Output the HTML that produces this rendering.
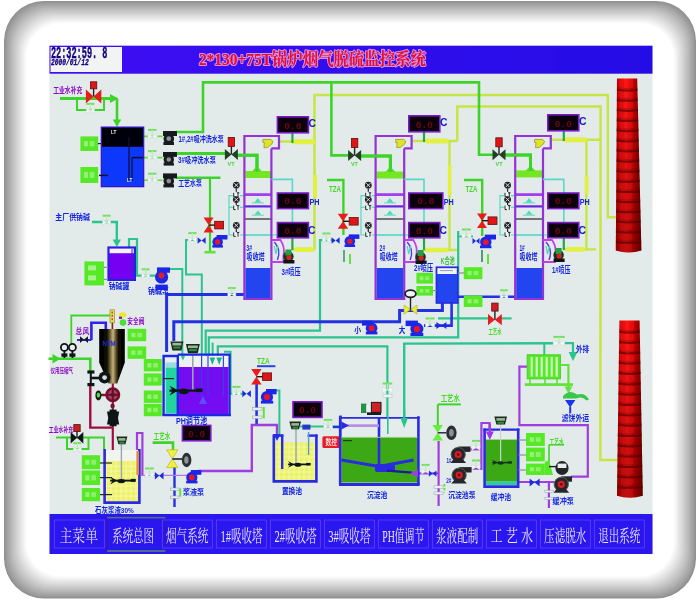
<!DOCTYPE html>
<html><head><meta charset="utf-8"><title>FGD SCADA</title>
<style>
html,body{margin:0;padding:0;background:#fff;width:698px;height:603px;overflow:hidden;font-family:"Liberation Sans",sans-serif;}
svg{display:block}
</style></head><body>
<svg width="698" height="603" viewBox="0 0 698 603">
<defs>
<linearGradient id="tb" x1="0" x2="1" y1="0" y2="0"><stop offset="0" stop-color="#4008f4"/><stop offset="1" stop-color="#2410e6"/></linearGradient>
<linearGradient id="chim" x1="0" x2="1" y1="0" y2="0"><stop offset="0" stop-color="#a80000"/><stop offset="0.14" stop-color="#dc0808"/><stop offset="0.4" stop-color="#ff1616"/><stop offset="0.6" stop-color="#e40a0a"/><stop offset="0.8" stop-color="#a40000"/><stop offset="1" stop-color="#6c0000"/></linearGradient>
<linearGradient id="chimv" x1="0" x2="0" y1="0" y2="1"><stop offset="0" stop-color="#300000" stop-opacity="0"/><stop offset="1" stop-color="#300000" stop-opacity="0.28"/></linearGradient>
<linearGradient id="silo" x1="0" x2="1" y1="0" y2="0"><stop offset="0" stop-color="#000"/><stop offset="0.3" stop-color="#0c0a04"/><stop offset="0.42" stop-color="#6a5c34"/><stop offset="0.54" stop-color="#c4b47c"/><stop offset="0.66" stop-color="#5a4a24"/><stop offset="0.76" stop-color="#0c0a04"/><stop offset="1" stop-color="#000"/></linearGradient>
<filter id="soft" x="-5%" y="-5%" width="110%" height="110%"><feGaussianBlur stdDeviation="0.75"/></filter>
<filter id="glow" x="-5%" y="-30%" width="110%" height="160%"><feGaussianBlur stdDeviation="0.75"/></filter>
</defs>
<rect x="0" y="0" width="698" height="603" fill="#ffffff" />
<rect x="4" y="1" width="692" height="597.5" fill="#909090" rx="40" />
<rect x="5" y="2" width="690" height="595.5" fill="#979797" rx="39.8" />
<rect x="6" y="3" width="688" height="593.5" fill="#9d9d9d" rx="39.5" />
<rect x="7" y="4" width="686" height="591.5" fill="#a2a2a2" rx="39.2" />
<rect x="8" y="5" width="684" height="589.5" fill="#a8a8a8" rx="39" />
<rect x="9" y="6" width="682" height="587.5" fill="#adadad" rx="38.8" />
<rect x="10" y="7" width="680" height="585.5" fill="#b2b2b2" rx="38.5" />
<rect x="11" y="8" width="678" height="583.5" fill="#b8b8b8" rx="38.2" />
<rect x="12" y="9" width="676" height="581.5" fill="#bdbdbd" rx="38" />
<rect x="13" y="10" width="674" height="579.5" fill="#c2c2c2" rx="37.8" />
<rect x="14" y="11" width="672" height="577.5" fill="#c7c7c7" rx="37.5" />
<rect x="15" y="12" width="670" height="575.5" fill="#cbcbcb" rx="37.2" />
<rect x="16" y="13" width="668" height="573.5" fill="#d0d0d0" rx="37" />
<rect x="17" y="14" width="666" height="571.5" fill="#d5d5d5" rx="36.8" />
<rect x="18" y="15" width="664" height="569.5" fill="#dadada" rx="36.5" />
<rect x="19" y="16" width="662" height="567.5" fill="#dfdfdf" rx="36.2" />
<rect x="20" y="17" width="660" height="565.5" fill="#e3e3e3" rx="36" />
<rect x="21" y="18" width="658" height="563.5" fill="#e8e8e8" rx="35.8" />
<rect x="22" y="19" width="656" height="561.5" fill="#ededed" rx="35.5" />
<rect x="23" y="20" width="654" height="559.5" fill="#f1f1f1" rx="35.2" />
<rect x="24" y="21" width="652" height="557.5" fill="#f6f6f6" rx="35" />
<rect x="25" y="22" width="650" height="555.5" fill="#fafafa" rx="34.8" />
<rect x="26" y="23" width="648" height="553.5" fill="#ffffff" rx="34.5" />
<g filter="url(#soft)">
<rect x="49.5" y="46" width="603" height="508" fill="#e2eaea" />
<rect x="49.5" y="45.7" width="603" height="28" fill="url(#tb)" />
<rect x="50.5" y="47" width="71.5" height="25" fill="#f2f3f3" />
<text x="50.9" y="58.3" font-family="Liberation Mono, sans-serif" font-size="17" font-weight="bold" fill="#14007c" text-anchor="start" textLength="56.6" lengthAdjust="spacingAndGlyphs" stroke="#14007c" stroke-width="0.45">22:32:59. 8</text>
<text x="50.9" y="64.7" font-family="Liberation Mono, sans-serif" font-size="9.8" font-weight="bold" fill="#14007c" text-anchor="start" textLength="37.8" lengthAdjust="spacingAndGlyphs" font-style="italic" stroke="#14007c" stroke-width="0.3">2000/01/12</text>
<text x="198.9" y="65.2" font-family="'Liberation Serif', 'Noto Serif CJK SC', serif" font-size="17" font-weight="bold" fill="#ffb0e4" stroke="#ffb0e4" stroke-width="2.2" stroke-linejoin="round" opacity="0.8" text-anchor="start" textLength="227" lengthAdjust="spacingAndGlyphs">2*130+75T锅炉烟气脱硫监控系统</text>
<text x="198.9" y="65.2" font-family="'Liberation Serif', 'Noto Serif CJK SC', serif" font-size="17" font-weight="bold" fill="#e4082c" text-anchor="start" textLength="227" lengthAdjust="spacingAndGlyphs">2*130+75T锅炉烟气脱硫监控系统</text>
<rect x="49.5" y="514" width="603" height="40" fill="#2a12ee" />
<rect x="54.3" y="520" width="50" height="28" fill="none" stroke="#6040ff" stroke-width="0.9" />
<text x="59.5" y="541.6" font-family="'Liberation Serif', 'Noto Serif CJK SC', serif" font-size="16.5" fill="#dcdcff" text-anchor="start" textLength="38.5" lengthAdjust="spacingAndGlyphs">主菜单</text>
<rect x="107.2" y="517.6" width="58" height="33.4" fill="none" stroke="#3a1cb0" stroke-width="1.2" />
<path d="M107.2 517.6 L165.4 517.6" fill="none" stroke="#4a7088" stroke-width="1.8" stroke-linecap="butt" stroke-linejoin="miter" />
<path d="M107.2 551 L165.4 551" fill="none" stroke="#4a7088" stroke-width="1.8" stroke-linecap="butt" stroke-linejoin="miter" />
<text x="112.2" y="541.6" font-family="'Liberation Serif', 'Noto Serif CJK SC', serif" font-size="16.5" fill="#ececff" text-anchor="start" textLength="41.8" lengthAdjust="spacingAndGlyphs">系统总图</text>
<rect x="162.3" y="520" width="50" height="28" fill="none" stroke="#6040ff" stroke-width="0.9" />
<text x="166.1" y="541.6" font-family="'Liberation Serif', 'Noto Serif CJK SC', serif" font-size="16.5" fill="#ececff" text-anchor="start" textLength="42.3" lengthAdjust="spacingAndGlyphs">烟气系统</text>
<rect x="216.3" y="520" width="50" height="28" fill="none" stroke="#6040ff" stroke-width="0.9" />
<text x="220.4" y="541.6" font-family="'Liberation Serif', 'Noto Serif CJK SC', serif" font-size="16.5" fill="#ececff" text-anchor="start" textLength="42.1" lengthAdjust="spacingAndGlyphs">1#吸收塔</text>
<rect x="270.3" y="520" width="50" height="28" fill="none" stroke="#6040ff" stroke-width="0.9" />
<text x="274.4" y="541.6" font-family="'Liberation Serif', 'Noto Serif CJK SC', serif" font-size="16.5" fill="#ececff" text-anchor="start" textLength="42.1" lengthAdjust="spacingAndGlyphs">2#吸收塔</text>
<rect x="324.3" y="520" width="50" height="28" fill="none" stroke="#6040ff" stroke-width="0.9" />
<text x="328.2" y="541.6" font-family="'Liberation Serif', 'Noto Serif CJK SC', serif" font-size="16.5" fill="#ececff" text-anchor="start" textLength="42.3" lengthAdjust="spacingAndGlyphs">3#吸收塔</text>
<rect x="378.3" y="520" width="50" height="28" fill="none" stroke="#6040ff" stroke-width="0.9" />
<text x="382.2" y="541.6" font-family="'Liberation Serif', 'Noto Serif CJK SC', serif" font-size="16.5" fill="#ececff" text-anchor="start" textLength="42.1" lengthAdjust="spacingAndGlyphs">PH值调节</text>
<rect x="432.3" y="520" width="50" height="28" fill="none" stroke="#6040ff" stroke-width="0.9" />
<text x="436.1" y="541.6" font-family="'Liberation Serif', 'Noto Serif CJK SC', serif" font-size="16.5" fill="#ececff" text-anchor="start" textLength="42.1" lengthAdjust="spacingAndGlyphs">浆液配制</text>
<rect x="486.3" y="520" width="50" height="28" fill="none" stroke="#6040ff" stroke-width="0.9" />
<text x="490.6" y="541.6" font-family="'Liberation Serif', 'Noto Serif CJK SC', serif" font-size="16.5" fill="#ececff" text-anchor="start" textLength="42.4" lengthAdjust="spacingAndGlyphs">工 艺 水</text>
<rect x="540.3" y="520" width="50" height="28" fill="none" stroke="#6040ff" stroke-width="0.9" />
<text x="544.1" y="541.6" font-family="'Liberation Serif', 'Noto Serif CJK SC', serif" font-size="16.5" fill="#ececff" text-anchor="start" textLength="42.3" lengthAdjust="spacingAndGlyphs">压滤脱水</text>
<rect x="594.3" y="520" width="50" height="28" fill="none" stroke="#6040ff" stroke-width="0.9" />
<text x="598.2" y="541.6" font-family="'Liberation Serif', 'Noto Serif CJK SC', serif" font-size="16.5" fill="#ececff" text-anchor="start" textLength="42.2" lengthAdjust="spacingAndGlyphs">退出系统</text>
<path d="M314.5 249 L314.5 95 L607.8 95 L607.8 217.3 L618 217.3" fill="none" stroke="#c6e644" stroke-width="2.5" stroke-linecap="butt" stroke-linejoin="miter" />
<path d="M457.3 141 L457.3 106.5 L600.6 106.5 L600.4 460 L619 460" fill="none" stroke="#c6e644" stroke-width="2.5" stroke-linecap="butt" stroke-linejoin="miter" />
<path d="M449.5 141 L449.5 250" fill="none" stroke="#c6e644" stroke-width="2.4" stroke-linecap="butt" stroke-linejoin="miter" />
<path d="M586.4 140 L586.4 249" fill="none" stroke="#c6e644" stroke-width="2.4" stroke-linecap="butt" stroke-linejoin="miter" />
<path d="M315 175 L315 197" fill="none" stroke="#e2f040" stroke-width="4" stroke-linecap="butt" stroke-linejoin="miter" />
<path d="M449.7 165 L449.7 195" fill="none" stroke="#e2f040" stroke-width="3.6" stroke-linecap="butt" stroke-linejoin="miter" />
<path d="M586.6 176 L586.6 194" fill="none" stroke="#e2f040" stroke-width="3.6" stroke-linecap="butt" stroke-linejoin="miter" />
<path d="M280 141.5 L315 141.5" fill="none" stroke="#c6e644" stroke-width="2.4" stroke-linecap="butt" stroke-linejoin="miter" />
<path d="M294 141.8 L313 141.8" fill="none" stroke="#e2f040" stroke-width="5" stroke-linecap="round" stroke-linejoin="miter" />
<path d="M411.5 141 L457.5 141" fill="none" stroke="#c6e644" stroke-width="2.4" stroke-linecap="butt" stroke-linejoin="miter" />
<path d="M427.5 141 L446 141" fill="none" stroke="#e2f040" stroke-width="5" stroke-linecap="round" stroke-linejoin="miter" />
<path d="M551 139.8 L601 139.8" fill="none" stroke="#c6e644" stroke-width="2.4" stroke-linecap="butt" stroke-linejoin="miter" />
<path d="M566 139.8 L584.4 139.8" fill="none" stroke="#e2f040" stroke-width="5" stroke-linecap="round" stroke-linejoin="miter" />
<path d="M292 249.6 L315.3 249.6" fill="none" stroke="#c6e644" stroke-width="2.4" stroke-linecap="butt" stroke-linejoin="miter" />
<path d="M296 249.6 L312 249.6" fill="none" stroke="#e2f040" stroke-width="4.6" stroke-linecap="round" stroke-linejoin="miter" />
<path d="M424 250 L457 250" fill="none" stroke="#c6e644" stroke-width="2.4" stroke-linecap="butt" stroke-linejoin="miter" />
<path d="M428 250 L446 250" fill="none" stroke="#e2f040" stroke-width="4.6" stroke-linecap="round" stroke-linejoin="miter" />
<path d="M564 249.4 L596 249.4" fill="none" stroke="#c6e644" stroke-width="2.4" stroke-linecap="butt" stroke-linejoin="miter" />
<path d="M568 249.4 L583 249.4" fill="none" stroke="#e2f040" stroke-width="4.6" stroke-linecap="round" stroke-linejoin="miter" />
<path d="M60 98.5 L112 98.5" fill="none" stroke="#3ed42a" stroke-width="3" stroke-linecap="butt" stroke-linejoin="miter" />
<polygon points="110,94 118.5,98.5 110,103" fill="#3ed42a" />
<path d="M117 99 L117 121" fill="none" stroke="#3ed42a" stroke-width="2.6" stroke-linecap="butt" stroke-linejoin="miter" />
<polygon points="112.8,119.5 121.2,119.5 117,127" fill="#3ed42a" />
<path d="M77 99 L77 110 L104 110 L104 99" fill="none" stroke="#3ed42a" stroke-width="2" stroke-linecap="butt" stroke-linejoin="miter" />
<path d="M176 132 L203 132 L203 82.4 L479 82.4 L479 154.8 L494 154.8" fill="none" stroke="#3ed42a" stroke-width="2.6" stroke-linecap="butt" stroke-linejoin="miter" />
<path d="M331.4 82.4 L331.4 155.4 L349 155.4" fill="none" stroke="#3ed42a" stroke-width="2.6" stroke-linecap="butt" stroke-linejoin="miter" />
<path d="M176 153.5 L226 153.5" fill="none" stroke="#3ed42a" stroke-width="3" stroke-linecap="butt" stroke-linejoin="miter" />
<path d="M237 155.2 L257 155.2 L257 172" fill="none" stroke="#3ed42a" stroke-width="3" stroke-linecap="butt" stroke-linejoin="miter" />
<path d="M360 156 L390.4 156 L390.4 172" fill="none" stroke="#3ed42a" stroke-width="3" stroke-linecap="butt" stroke-linejoin="miter" />
<path d="M504 155 L530.5 155 L530.5 171" fill="none" stroke="#3ed42a" stroke-width="3" stroke-linecap="butt" stroke-linejoin="miter" />
<path d="M176 177.7 L220.4 177.7" fill="none" stroke="#3ed42a" stroke-width="2.6" stroke-linecap="butt" stroke-linejoin="miter" />
<path d="M210 178 L210 251" fill="none" stroke="#3ed42a" stroke-width="2.2" stroke-linecap="butt" stroke-linejoin="miter" />
<path d="M204.5 252.2 L215.5 252.2" fill="none" stroke="#62e23a" stroke-width="2.6" stroke-linecap="butt" stroke-linejoin="miter" />
<path d="M143.5 136.4 L163 136.4" fill="none" stroke="#62e23a" stroke-width="1.6" stroke-linecap="butt" stroke-linejoin="miter" stroke-dasharray="5 2"/>
<path d="M143.5 157.6 L163 157.6" fill="none" stroke="#62e23a" stroke-width="1.6" stroke-linecap="butt" stroke-linejoin="miter" stroke-dasharray="5 2"/>
<path d="M143.5 180.2 L163 180.2" fill="none" stroke="#62e23a" stroke-width="1.6" stroke-linecap="butt" stroke-linejoin="miter" stroke-dasharray="5 2"/>
<path d="M327 180 L343.4 180 L343.4 235" fill="none" stroke="#3ed42a" stroke-width="2.4" stroke-linecap="butt" stroke-linejoin="miter" />
<path d="M464 180 L482.2 180 L482.2 236" fill="none" stroke="#3ed42a" stroke-width="2.4" stroke-linecap="butt" stroke-linejoin="miter" />
<path d="M67 438 L67 449 L88.5 449 L88.5 438" fill="none" stroke="#3ed42a" stroke-width="2" stroke-linecap="butt" stroke-linejoin="miter" />
<path d="M56 437.6 L104 437.6 L104 449" fill="none" stroke="#3ed42a" stroke-width="2" stroke-linecap="butt" stroke-linejoin="miter" />
<path d="M152.6 442.6 L173 442.6 L173 451" fill="none" stroke="#3ed42a" stroke-width="2.6" stroke-linecap="butt" stroke-linejoin="miter" />
<path d="M437.8 404.4 L460.8 404.4" fill="none" stroke="#3ed42a" stroke-width="2" stroke-linecap="butt" stroke-linejoin="miter" />
<path d="M437.8 404.4 L437.8 426" fill="none" stroke="#3ed42a" stroke-width="2" stroke-linecap="butt" stroke-linejoin="miter" />
<path d="M549 444.8 L564 444.8" fill="none" stroke="#3ed42a" stroke-width="1.6" stroke-linecap="butt" stroke-linejoin="miter" />
<path d="M549 444.8 L549 467" fill="none" stroke="#3ed42a" stroke-width="1.6" stroke-linecap="butt" stroke-linejoin="miter" />
<path d="M48.5 358.8 L90.3 358.8 L90.3 371" fill="none" stroke="#3ed42a" stroke-width="2.6" stroke-linecap="butt" stroke-linejoin="miter" />
<polygon points="52.5,354 60.5,358.8 52.5,363.6" fill="#3ed42a" />
<path d="M71.3 344 L71.3 315.5 L110.5 315.5" fill="none" stroke="#3ed42a" stroke-width="1.8" stroke-linecap="butt" stroke-linejoin="miter" />
<path d="M92 222 L116.8 222 L116.8 241" fill="none" stroke="#2cc48c" stroke-width="2.4" stroke-linecap="butt" stroke-linejoin="miter" />
<polygon points="112.6,239.5 121,239.5 116.8,247" fill="#2cc48c" />
<path d="M129 248 L129 239 L137 239 L137 275.6 L156 275.6" fill="none" stroke="#2cc48c" stroke-width="2.2" stroke-linecap="butt" stroke-linejoin="miter" />
<path d="M169 269 L182.3 269 L182.3 358.7" fill="none" stroke="#2cc48c" stroke-width="2" stroke-linecap="butt" stroke-linejoin="miter" />
<path d="M197 240 L186 240 L186 274.6 L201.8 274.6 L201.8 370" fill="none" stroke="#2cc48c" stroke-width="2" stroke-linecap="butt" stroke-linejoin="miter" />
<path d="M205.7 356 L205.7 330.6 L320 330.6 L320 240.2 L332 240.2" fill="none" stroke="#2cc48c" stroke-width="2.2" stroke-linecap="butt" stroke-linejoin="miter" />
<path d="M208.8 356 L208.8 337.4 L458.2 337.4 L458.2 231" fill="none" stroke="#2cc48c" stroke-width="2.2" stroke-linecap="butt" stroke-linejoin="miter" />
<path d="M212.6 356 L212.6 342.6" fill="none" stroke="#2cc48c" stroke-width="2" stroke-linecap="butt" stroke-linejoin="miter" />
<path d="M217.8 356 L217.8 346.4 L387.4 346.4 L387.4 436" fill="none" stroke="#2cc48c" stroke-width="2.2" stroke-linecap="butt" stroke-linejoin="miter" />
<path d="M224 351.8 L230.6 351.8 L230.6 393.7 L243 393.7" fill="none" stroke="#2cc48c" stroke-width="2" stroke-linecap="butt" stroke-linejoin="miter" />
<path d="M275 390.5 L279.4 390.5 L279.4 436" fill="none" stroke="#2cc48c" stroke-width="2" stroke-linecap="butt" stroke-linejoin="miter" />
<path d="M404.2 420 L404.2 343.6 L553.5 343.2" fill="none" stroke="#2cc48c" stroke-width="2.4" stroke-linecap="butt" stroke-linejoin="miter" />
<polygon points="400.4,418 408,418 404.2,428" fill="#2cc48c" />
<path d="M544.3 343.2 L544.3 355" fill="none" stroke="#2cc48c" stroke-width="2" stroke-linecap="butt" stroke-linejoin="miter" />
<path d="M564 343.2 L573 343.2 L573 354" fill="none" stroke="#2cc48c" stroke-width="2.2" stroke-linecap="butt" stroke-linejoin="miter" />
<polygon points="568.6,352 577.4,352 573,361" fill="#2cc48c" />
<path d="M438 318.4 L489 318.4" fill="none" stroke="#2cc48c" stroke-width="2.2" stroke-linecap="butt" stroke-linejoin="miter" />
<path d="M500 318.4 L511.6 318.4" fill="none" stroke="#2cc48c" stroke-width="2.2" stroke-linecap="butt" stroke-linejoin="miter" />
<path d="M458.2 236.4 L473 236.4" fill="none" stroke="#2cc48c" stroke-width="1.8" stroke-linecap="butt" stroke-linejoin="miter" />
<path d="M300 426.6 L341 426.6" fill="none" stroke="#2cc48c" stroke-width="2" stroke-linecap="butt" stroke-linejoin="miter" />
<path d="M244 195.6 L229 195.6 L229 235 L279 235" fill="none" stroke="#58d8c8" stroke-width="1.2" stroke-linecap="butt" stroke-linejoin="miter" />
<path d="M229 207.3 L244 207.3" fill="none" stroke="#58d8c8" stroke-width="1.2" stroke-linecap="butt" stroke-linejoin="miter" />
<path d="M376 195.6 L361 195.6 L361 235 L411 235" fill="none" stroke="#58d8c8" stroke-width="1.2" stroke-linecap="butt" stroke-linejoin="miter" />
<path d="M361 207.3 L376 207.3" fill="none" stroke="#58d8c8" stroke-width="1.2" stroke-linecap="butt" stroke-linejoin="miter" />
<path d="M515 195.6 L500 195.6 L500 235 L550 235" fill="none" stroke="#58d8c8" stroke-width="1.2" stroke-linecap="butt" stroke-linejoin="miter" />
<path d="M500 207.3 L515 207.3" fill="none" stroke="#58d8c8" stroke-width="1.2" stroke-linecap="butt" stroke-linejoin="miter" />
<path d="M245 294.4 L166.6 294.4 L166.6 352" fill="none" stroke="#2232e2" stroke-width="3" stroke-linecap="butt" stroke-linejoin="miter" />
<path d="M173.8 341 L173.8 321.8 L399.6 321.8 L399.6 310.6 L442.4 310.6 L442.4 303" fill="none" stroke="#2232e2" stroke-width="3" stroke-linecap="butt" stroke-linejoin="miter" />
<path d="M424 325.6 L451.6 325.6 L451.6 303" fill="none" stroke="#2232e2" stroke-width="2.6" stroke-linecap="butt" stroke-linejoin="miter" />
<path d="M458 296.8 L515.5 296.8" fill="none" stroke="#2232e2" stroke-width="2.6" stroke-linecap="butt" stroke-linejoin="miter" />
<path d="M91.4 340 L91.4 322.8 L105.8 322.8 L105.8 329.5" fill="none" stroke="#3020e8" stroke-width="2.6" stroke-linecap="butt" stroke-linejoin="miter" />
<path d="M77 340 L91.4 340" fill="none" stroke="#3020e8" stroke-width="2" stroke-linecap="butt" stroke-linejoin="miter" />
<path d="M174.5 466 L174.5 507" fill="none" stroke="#2232e2" stroke-width="2.4" stroke-linecap="butt" stroke-linejoin="miter" />
<path d="M256.6 384 L256.6 426" fill="none" stroke="#2232e2" stroke-width="2.6" stroke-linecap="butt" stroke-linejoin="miter" />
<path d="M340.6 415.5 L340.6 440" fill="none" stroke="#2232e2" stroke-width="2.4" stroke-linecap="butt" stroke-linejoin="miter" />
<path d="M333 427 L348 427" fill="none" stroke="#2232e2" stroke-width="2.4" stroke-linecap="butt" stroke-linejoin="miter" />
<path d="M137 450 L137 433 L142.4 433 L142.4 476" fill="none" stroke="#a03ee0" stroke-width="2.2" stroke-linecap="butt" stroke-linejoin="miter" />
<path d="M142.4 475.4 L187 475.4" fill="none" stroke="#b474f0" stroke-width="1.3" stroke-linecap="butt" stroke-linejoin="miter" />
<path d="M198 471 L251.8 471 L251.8 425 L277 425 L277 436" fill="none" stroke="#a03ee0" stroke-width="2.4" stroke-linecap="butt" stroke-linejoin="miter" />
<polygon points="273.4,434 280.6,434 277,441" fill="#2232e2" />
<path d="M418 473.4 L439 473.4" fill="none" stroke="#a03ee0" stroke-width="2.2" stroke-linecap="butt" stroke-linejoin="miter" />
<polygon points="410,473.4 418,469.6 418,477.2" fill="#a03ee0" />
<path d="M438.6 441 L438.6 506" fill="none" stroke="#a03ee0" stroke-width="2.2" stroke-linecap="butt" stroke-linejoin="miter" />
<path d="M470 449.4 L481.4 449.4" fill="none" stroke="#a03ee0" stroke-width="2" stroke-linecap="butt" stroke-linejoin="miter" />
<path d="M471 468.8 L481.4 468.8" fill="none" stroke="#a03ee0" stroke-width="2" stroke-linecap="butt" stroke-linejoin="miter" />
<path d="M481.4 470 L481.4 423 L489.6 423 L489.6 433" fill="none" stroke="#a03ee0" stroke-width="2.2" stroke-linecap="butt" stroke-linejoin="miter" />
<polygon points="485.8,431 493.4,431 489.6,439" fill="#a03ee0" />
<path d="M527 366.6 L519.4 366.6 L519.4 425.2 L587.8 425.2 L587.8 476.6 L571 476.6" fill="none" stroke="#a03ee0" stroke-width="2.2" stroke-linecap="butt" stroke-linejoin="miter" />
<path d="M518 482 L554 482" fill="none" stroke="#a03ee0" stroke-width="2.2" stroke-linecap="butt" stroke-linejoin="miter" />
<path d="M548.9 483 L548.9 508" fill="none" stroke="#a03ee0" stroke-width="2.2" stroke-linecap="butt" stroke-linejoin="miter" />
<path d="M90.3 386 L90.3 427.6 L112.6 427.6" fill="none" stroke="#a01040" stroke-width="2.4" stroke-linecap="butt" stroke-linejoin="miter" />
<path d="M112.8 383 L112.8 455" fill="none" stroke="#a01040" stroke-width="2.2" stroke-linecap="butt" stroke-linejoin="miter" />
<path d="M617 78.4 L637.2 78.4 L641.4 250.6 Q628.6 254.6 615.8 250.6 Z" fill="url(#chim)"/>
<path d="M617 78.4 L637.2 78.4 L641.4 250.6 Q628.6 254.6 615.8 250.6 Z" fill="url(#chimv)"/>
<path d="M616.9 89.8 Q627.2 91.6 637.5 89.8" fill="none" stroke="#4c0000" stroke-width="2" opacity="0.62"/>
<path d="M616.9 88 Q627.2 89.8 637.5 88" fill="none" stroke="#700000" stroke-width="2" opacity="0.28"/>
<path d="M616.8 99.9 Q627.3 101.7 637.7 99.9" fill="none" stroke="#4c0000" stroke-width="2" opacity="0.62"/>
<path d="M616.8 98.1 Q627.3 99.9 637.7 98.1" fill="none" stroke="#700000" stroke-width="2" opacity="0.28"/>
<path d="M616.8 110.1 Q627.4 111.9 638 110.1" fill="none" stroke="#4c0000" stroke-width="2" opacity="0.62"/>
<path d="M616.8 108.3 Q627.4 110.1 638 108.3" fill="none" stroke="#700000" stroke-width="2" opacity="0.28"/>
<path d="M616.7 120.2 Q627.5 122 638.2 120.2" fill="none" stroke="#4c0000" stroke-width="2" opacity="0.62"/>
<path d="M616.7 118.4 Q627.5 120.2 638.2 118.4" fill="none" stroke="#700000" stroke-width="2" opacity="0.28"/>
<path d="M616.6 130.3 Q627.6 132.1 638.5 130.3" fill="none" stroke="#4c0000" stroke-width="2" opacity="0.62"/>
<path d="M616.6 128.5 Q627.6 130.3 638.5 128.5" fill="none" stroke="#700000" stroke-width="2" opacity="0.28"/>
<path d="M616.6 140.5 Q627.6 142.3 638.7 140.5" fill="none" stroke="#4c0000" stroke-width="2" opacity="0.62"/>
<path d="M616.6 138.7 Q627.6 140.5 638.7 138.7" fill="none" stroke="#700000" stroke-width="2" opacity="0.28"/>
<path d="M616.5 150.6 Q627.7 152.4 639 150.6" fill="none" stroke="#4c0000" stroke-width="2" opacity="0.62"/>
<path d="M616.5 148.8 Q627.7 150.6 639 148.8" fill="none" stroke="#700000" stroke-width="2" opacity="0.28"/>
<path d="M616.4 160.8 Q627.8 162.6 639.2 160.8" fill="none" stroke="#4c0000" stroke-width="2" opacity="0.62"/>
<path d="M616.4 159 Q627.8 160.8 639.2 159" fill="none" stroke="#700000" stroke-width="2" opacity="0.28"/>
<path d="M616.4 170.9 Q627.9 172.7 639.4 170.9" fill="none" stroke="#4c0000" stroke-width="2" opacity="0.62"/>
<path d="M616.4 169.1 Q627.9 170.9 639.4 169.1" fill="none" stroke="#700000" stroke-width="2" opacity="0.28"/>
<path d="M616.3 181 Q628 182.8 639.7 181" fill="none" stroke="#4c0000" stroke-width="2" opacity="0.62"/>
<path d="M616.3 179.2 Q628 181 639.7 179.2" fill="none" stroke="#700000" stroke-width="2" opacity="0.28"/>
<path d="M616.2 191.2 Q628.1 193 639.9 191.2" fill="none" stroke="#4c0000" stroke-width="2" opacity="0.62"/>
<path d="M616.2 189.4 Q628.1 191.2 639.9 189.4" fill="none" stroke="#700000" stroke-width="2" opacity="0.28"/>
<path d="M616.1 201.3 Q628.2 203.1 640.2 201.3" fill="none" stroke="#4c0000" stroke-width="2" opacity="0.62"/>
<path d="M616.1 199.5 Q628.2 201.3 640.2 199.5" fill="none" stroke="#700000" stroke-width="2" opacity="0.28"/>
<path d="M616.1 211.5 Q628.3 213.2 640.4 211.5" fill="none" stroke="#4c0000" stroke-width="2" opacity="0.62"/>
<path d="M616.1 209.7 Q628.3 211.5 640.4 209.7" fill="none" stroke="#700000" stroke-width="2" opacity="0.28"/>
<path d="M616 221.6 Q628.3 223.4 640.7 221.6" fill="none" stroke="#4c0000" stroke-width="2" opacity="0.62"/>
<path d="M616 219.8 Q628.3 221.6 640.7 219.8" fill="none" stroke="#700000" stroke-width="2" opacity="0.28"/>
<path d="M615.9 231.7 Q628.4 233.5 640.9 231.7" fill="none" stroke="#4c0000" stroke-width="2" opacity="0.62"/>
<path d="M615.9 229.9 Q628.4 231.7 640.9 229.9" fill="none" stroke="#700000" stroke-width="2" opacity="0.28"/>
<path d="M615.9 241.9 Q628.5 243.7 641.2 241.9" fill="none" stroke="#4c0000" stroke-width="2" opacity="0.62"/>
<path d="M615.9 240.1 Q628.5 241.9 641.2 240.1" fill="none" stroke="#700000" stroke-width="2" opacity="0.28"/>
<path d="M619.4 320.4 L639.6 320.4 L642.8 495.8 Q629.9 499.8 617 495.8 Z" fill="url(#chim)"/>
<path d="M619.4 320.4 L639.6 320.4 L642.8 495.8 Q629.9 499.8 617 495.8 Z" fill="url(#chimv)"/>
<path d="M619.2 331.8 Q629.5 333.6 639.8 331.8" fill="none" stroke="#4c0000" stroke-width="2" opacity="0.62"/>
<path d="M619.2 330 Q629.5 331.8 639.8 330" fill="none" stroke="#700000" stroke-width="2" opacity="0.28"/>
<path d="M619.1 342.1 Q629.6 343.9 640 342.1" fill="none" stroke="#4c0000" stroke-width="2" opacity="0.62"/>
<path d="M619.1 340.3 Q629.6 342.1 640 340.3" fill="none" stroke="#700000" stroke-width="2" opacity="0.28"/>
<path d="M619 352.5 Q629.6 354.3 640.2 352.5" fill="none" stroke="#4c0000" stroke-width="2" opacity="0.62"/>
<path d="M619 350.7 Q629.6 352.5 640.2 350.7" fill="none" stroke="#700000" stroke-width="2" opacity="0.28"/>
<path d="M618.8 362.8 Q629.6 364.6 640.4 362.8" fill="none" stroke="#4c0000" stroke-width="2" opacity="0.62"/>
<path d="M618.8 361 Q629.6 362.8 640.4 361" fill="none" stroke="#700000" stroke-width="2" opacity="0.28"/>
<path d="M618.7 373.1 Q629.6 374.9 640.6 373.1" fill="none" stroke="#4c0000" stroke-width="2" opacity="0.62"/>
<path d="M618.7 371.4 Q629.6 373.1 640.6 371.4" fill="none" stroke="#700000" stroke-width="2" opacity="0.28"/>
<path d="M618.5 383.5 Q629.6 385.3 640.7 383.5" fill="none" stroke="#4c0000" stroke-width="2" opacity="0.62"/>
<path d="M618.5 381.7 Q629.6 383.5 640.7 381.7" fill="none" stroke="#700000" stroke-width="2" opacity="0.28"/>
<path d="M618.4 393.8 Q629.7 395.6 640.9 393.8" fill="none" stroke="#4c0000" stroke-width="2" opacity="0.62"/>
<path d="M618.4 392 Q629.7 393.8 640.9 392" fill="none" stroke="#700000" stroke-width="2" opacity="0.28"/>
<path d="M618.3 404.2 Q629.7 406 641.1 404.2" fill="none" stroke="#4c0000" stroke-width="2" opacity="0.62"/>
<path d="M618.3 402.4 Q629.7 404.2 641.1 402.4" fill="none" stroke="#700000" stroke-width="2" opacity="0.28"/>
<path d="M618.1 414.5 Q629.7 416.3 641.3 414.5" fill="none" stroke="#4c0000" stroke-width="2" opacity="0.62"/>
<path d="M618.1 412.7 Q629.7 414.5 641.3 412.7" fill="none" stroke="#700000" stroke-width="2" opacity="0.28"/>
<path d="M618 424.8 Q629.7 426.6 641.5 424.8" fill="none" stroke="#4c0000" stroke-width="2" opacity="0.62"/>
<path d="M618 423 Q629.7 424.8 641.5 423" fill="none" stroke="#700000" stroke-width="2" opacity="0.28"/>
<path d="M617.8 435.2 Q629.8 437 641.7 435.2" fill="none" stroke="#4c0000" stroke-width="2" opacity="0.62"/>
<path d="M617.8 433.4 Q629.8 435.2 641.7 433.4" fill="none" stroke="#700000" stroke-width="2" opacity="0.28"/>
<path d="M617.7 445.5 Q629.8 447.3 641.9 445.5" fill="none" stroke="#4c0000" stroke-width="2" opacity="0.62"/>
<path d="M617.7 443.7 Q629.8 445.5 641.9 443.7" fill="none" stroke="#700000" stroke-width="2" opacity="0.28"/>
<path d="M617.6 455.8 Q629.8 457.6 642.1 455.8" fill="none" stroke="#4c0000" stroke-width="2" opacity="0.62"/>
<path d="M617.6 454.1 Q629.8 455.8 642.1 454.1" fill="none" stroke="#700000" stroke-width="2" opacity="0.28"/>
<path d="M617.4 466.2 Q629.8 468 642.2 466.2" fill="none" stroke="#4c0000" stroke-width="2" opacity="0.62"/>
<path d="M617.4 464.4 Q629.8 466.2 642.2 464.4" fill="none" stroke="#700000" stroke-width="2" opacity="0.28"/>
<path d="M617.3 476.5 Q629.9 478.3 642.4 476.5" fill="none" stroke="#4c0000" stroke-width="2" opacity="0.62"/>
<path d="M617.3 474.7 Q629.9 476.5 642.4 474.7" fill="none" stroke="#700000" stroke-width="2" opacity="0.28"/>
<path d="M617.1 486.9 Q629.9 488.7 642.6 486.9" fill="none" stroke="#4c0000" stroke-width="2" opacity="0.62"/>
<path d="M617.1 485.1 Q629.9 486.9 642.6 485.1" fill="none" stroke="#700000" stroke-width="2" opacity="0.28"/>
<rect x="245.4" y="268" width="25" height="30" fill="#2444f0" />
<rect x="245.4" y="171" width="26" height="7" fill="#74e622" />
<polygon points="252,171.5 262,171.5 257,166" fill="#5ade28" />
<path d="M244.4 194.6 L271.4 194.6" fill="none" stroke="#a040f0" stroke-width="2.8" stroke-linecap="butt" stroke-linejoin="miter" />
<path d="M244.4 206.4 L271.4 206.4" fill="none" stroke="#6222e2" stroke-width="2.2" stroke-linecap="butt" stroke-linejoin="miter" />
<path d="M244.4 219 L271.4 219" fill="none" stroke="#707478" stroke-width="2" stroke-linecap="butt" stroke-linejoin="miter" />
<path d="M244.4 235 L271.4 235" fill="none" stroke="#58d8c8" stroke-width="1.4" stroke-linecap="butt" stroke-linejoin="miter" />
<polygon points="254.4,202.5 261.4,202.5 257.9,198.1" fill="#50d8c0" />
<path d="M251.9 202.9 L263.9 202.9" fill="none" stroke="#50d8c0" stroke-width="0.9" stroke-linecap="butt" stroke-linejoin="miter" />
<polygon points="254.4,214.8 261.4,214.8 257.9,210.4" fill="#50d8c0" />
<path d="M251.9 215.2 L263.9 215.2" fill="none" stroke="#50d8c0" stroke-width="0.9" stroke-linecap="butt" stroke-linejoin="miter" />
<path d="M271.4 148.4 L271.4 299 L244.4 299 L244.4 136 L279 136 L279 148.4 L271.4 148.4" fill="none" stroke="#9430d4" stroke-width="2.2" stroke-linecap="butt" stroke-linejoin="miter" />
<path d="M262.9 139.4 L270.9 139.4 Q274.4 141 271.9 144 L267.4 147.6 L263.9 147.6 L264.4 142.6 L262.9 142.4 Z" fill="#e2e228" stroke="#8a8a30" stroke-width="0.7"/>
<path d="M271.4 240 L280.4 240 Q285.4 247 283.4 256 L283.4 262 L271.4 262" fill="none" stroke="#c040e8" stroke-width="1.8"/>
<path d="M274.4 242 Q281.4 250 277.4 260" fill="none" stroke="#6030e0" stroke-width="1.4"/>
<path d="M274.4 246 L275.9 254 L277.9 246" fill="none" stroke="#50d8c0" stroke-width="1.3"/>
<rect x="376.6" y="268" width="26.6" height="30" fill="#2444f0" />
<rect x="376.6" y="171.5" width="27.6" height="7" fill="#74e622" />
<polygon points="385.4,172 395.4,172 390.4,166.5" fill="#5ade28" />
<path d="M375.6 194.6 L404.2 194.6" fill="none" stroke="#a040f0" stroke-width="2.8" stroke-linecap="butt" stroke-linejoin="miter" />
<path d="M375.6 206.4 L404.2 206.4" fill="none" stroke="#6222e2" stroke-width="2.2" stroke-linecap="butt" stroke-linejoin="miter" />
<path d="M375.6 219 L404.2 219" fill="none" stroke="#707478" stroke-width="2" stroke-linecap="butt" stroke-linejoin="miter" />
<path d="M375.6 235 L404.2 235" fill="none" stroke="#58d8c8" stroke-width="1.4" stroke-linecap="butt" stroke-linejoin="miter" />
<polygon points="386.4,202.5 393.4,202.5 389.9,198.1" fill="#50d8c0" />
<path d="M383.9 202.9 L395.9 202.9" fill="none" stroke="#50d8c0" stroke-width="0.9" stroke-linecap="butt" stroke-linejoin="miter" />
<polygon points="386.4,214.8 393.4,214.8 389.9,210.4" fill="#50d8c0" />
<path d="M383.9 215.2 L395.9 215.2" fill="none" stroke="#50d8c0" stroke-width="0.9" stroke-linecap="butt" stroke-linejoin="miter" />
<path d="M404.2 148.4 L404.2 299 L375.6 299 L375.6 136 L411.6 136 L411.6 148.4 L404.2 148.4" fill="none" stroke="#9430d4" stroke-width="2.2" stroke-linecap="butt" stroke-linejoin="miter" />
<path d="M395.7 139.4 L403.7 139.4 Q407.2 141 404.7 144 L400.2 147.6 L396.7 147.6 L397.2 142.6 L395.7 142.4 Z" fill="#e2e228" stroke="#8a8a30" stroke-width="0.7"/>
<path d="M404.2 240 L413.2 240 Q418.2 247 416.2 256 L416.2 262 L404.2 262" fill="none" stroke="#c040e8" stroke-width="1.8"/>
<path d="M407.2 242 Q414.2 250 410.2 260" fill="none" stroke="#6030e0" stroke-width="1.4"/>
<path d="M407.2 246 L408.7 254 L410.7 246" fill="none" stroke="#50d8c0" stroke-width="1.3"/>
<rect x="516.2" y="268" width="25.8" height="30" fill="#2444f0" />
<rect x="516.2" y="170.4" width="26.8" height="7" fill="#74e622" />
<polygon points="525.5,170.9 535.5,170.9 530.5,165.4" fill="#5ade28" />
<path d="M515.2 194.6 L543 194.6" fill="none" stroke="#a040f0" stroke-width="2.8" stroke-linecap="butt" stroke-linejoin="miter" />
<path d="M515.2 206.4 L543 206.4" fill="none" stroke="#6222e2" stroke-width="2.2" stroke-linecap="butt" stroke-linejoin="miter" />
<path d="M515.2 219 L543 219" fill="none" stroke="#707478" stroke-width="2" stroke-linecap="butt" stroke-linejoin="miter" />
<path d="M515.2 235 L543 235" fill="none" stroke="#58d8c8" stroke-width="1.4" stroke-linecap="butt" stroke-linejoin="miter" />
<polygon points="525.6,202.5 532.6,202.5 529.1,198.1" fill="#50d8c0" />
<path d="M523.1 202.9 L535.1 202.9" fill="none" stroke="#50d8c0" stroke-width="0.9" stroke-linecap="butt" stroke-linejoin="miter" />
<polygon points="525.6,214.8 532.6,214.8 529.1,210.4" fill="#50d8c0" />
<path d="M523.1 215.2 L535.1 215.2" fill="none" stroke="#50d8c0" stroke-width="0.9" stroke-linecap="butt" stroke-linejoin="miter" />
<path d="M543 148.4 L543 299 L515.2 299 L515.2 136 L550.8 136 L550.8 148.4 L543 148.4" fill="none" stroke="#9430d4" stroke-width="2.2" stroke-linecap="butt" stroke-linejoin="miter" />
<path d="M534.5 139.4 L542.5 139.4 Q546 141 543.5 144 L539 147.6 L535.5 147.6 L536 142.6 L534.5 142.4 Z" fill="#e2e228" stroke="#8a8a30" stroke-width="0.7"/>
<path d="M543 240 L552 240 Q557 247 555 256 L555 262 L543 262" fill="none" stroke="#c040e8" stroke-width="1.8"/>
<path d="M546 242 Q553 250 549 260" fill="none" stroke="#6030e0" stroke-width="1.4"/>
<path d="M546 246 L547.5 254 L549.5 246" fill="none" stroke="#50d8c0" stroke-width="1.3"/>
<path d="M237 155.2 L257 155.2 L257 172" fill="none" stroke="#3ed42a" stroke-width="3" stroke-linecap="butt" stroke-linejoin="miter" />
<path d="M360 156 L390.4 156 L390.4 172" fill="none" stroke="#3ed42a" stroke-width="3" stroke-linecap="butt" stroke-linejoin="miter" />
<path d="M504 155 L530.5 155 L530.5 171" fill="none" stroke="#3ed42a" stroke-width="3" stroke-linecap="butt" stroke-linejoin="miter" />
<path d="M271.4 179.4 L292.4 179.4 L292.4 193" fill="none" stroke="#58d8c8" stroke-width="1.6" stroke-linecap="butt" stroke-linejoin="miter" />
<path d="M292.4 208 L292.4 223" fill="none" stroke="#58d8c8" stroke-width="1.6" stroke-linecap="butt" stroke-linejoin="miter" />
<path d="M404.2 179.4 L424 179.4 L424 193" fill="none" stroke="#58d8c8" stroke-width="1.6" stroke-linecap="butt" stroke-linejoin="miter" />
<path d="M424 208 L424 223" fill="none" stroke="#58d8c8" stroke-width="1.6" stroke-linecap="butt" stroke-linejoin="miter" />
<path d="M543 179.4 L563.8 179.4 L563.8 193" fill="none" stroke="#58d8c8" stroke-width="1.6" stroke-linecap="butt" stroke-linejoin="miter" />
<path d="M563.8 208 L563.8 223" fill="none" stroke="#58d8c8" stroke-width="1.6" stroke-linecap="butt" stroke-linejoin="miter" />
<path d="M292.4 132 L292.4 143" fill="none" stroke="#24a848" stroke-width="2.2" stroke-linecap="butt" stroke-linejoin="miter" />
<path d="M292.4 238 L292.4 250" fill="none" stroke="#24a848" stroke-width="2.2" stroke-linecap="butt" stroke-linejoin="miter" />
<rect x="277.4" y="116.8" width="31" height="16" fill="#100010" stroke="#7a1cc8" stroke-width="1.6" />
<text x="292.9" y="128.6" font-family="Liberation Mono, sans-serif" font-size="9.5" font-weight="bold" fill="#620c12" text-anchor="middle" >0.0</text>
<rect x="277.4" y="193" width="31" height="15.6" fill="#100010" stroke="#7a1cc8" stroke-width="1.6" />
<text x="292.9" y="204.4" font-family="Liberation Mono, sans-serif" font-size="9.5" font-weight="bold" fill="#620c12" text-anchor="middle" >0.0</text>
<rect x="277.4" y="222.6" width="31" height="15.2" fill="#100010" stroke="#7a1cc8" stroke-width="1.6" />
<text x="292.9" y="233.6" font-family="Liberation Mono, sans-serif" font-size="9.5" font-weight="bold" fill="#620c12" text-anchor="middle" >0.0</text>
<text x="308.6" y="127" font-family="Liberation Sans, sans-serif" font-size="10.4" font-weight="bold" fill="#1418c8" text-anchor="start" >C</text>
<text x="309.4" y="204.5" font-family="Liberation Sans, sans-serif" font-size="8.2" font-weight="bold" fill="#1424e0" text-anchor="start" textLength="10" lengthAdjust="spacingAndGlyphs">PH</text>
<text x="308" y="234.4" font-family="Liberation Sans, sans-serif" font-size="10.4" font-weight="bold" fill="#1418c8" text-anchor="start" >C</text>
<path d="M424 131 L424 142" fill="none" stroke="#24a848" stroke-width="2.2" stroke-linecap="butt" stroke-linejoin="miter" />
<path d="M424 238 L424 250" fill="none" stroke="#24a848" stroke-width="2.2" stroke-linecap="butt" stroke-linejoin="miter" />
<rect x="408.8" y="115.8" width="31" height="16" fill="#100010" stroke="#7a1cc8" stroke-width="1.6" />
<text x="424.3" y="127.6" font-family="Liberation Mono, sans-serif" font-size="9.5" font-weight="bold" fill="#620c12" text-anchor="middle" >0.0</text>
<rect x="408.8" y="193" width="34" height="15.6" fill="#100010" stroke="#7a1cc8" stroke-width="1.6" />
<text x="425.8" y="204.4" font-family="Liberation Mono, sans-serif" font-size="9.5" font-weight="bold" fill="#620c12" text-anchor="middle" >0.0</text>
<rect x="408.8" y="222.6" width="31" height="15.2" fill="#100010" stroke="#7a1cc8" stroke-width="1.6" />
<text x="424.3" y="233.6" font-family="Liberation Mono, sans-serif" font-size="9.5" font-weight="bold" fill="#620c12" text-anchor="middle" >0.0</text>
<text x="440" y="126" font-family="Liberation Sans, sans-serif" font-size="10.4" font-weight="bold" fill="#1418c8" text-anchor="start" >C</text>
<text x="443.8" y="204.5" font-family="Liberation Sans, sans-serif" font-size="8.2" font-weight="bold" fill="#1424e0" text-anchor="start" textLength="10" lengthAdjust="spacingAndGlyphs">PH</text>
<text x="439.4" y="234.4" font-family="Liberation Sans, sans-serif" font-size="10.4" font-weight="bold" fill="#1418c8" text-anchor="start" >C</text>
<path d="M563.8 130 L563.8 141" fill="none" stroke="#24a848" stroke-width="2.2" stroke-linecap="butt" stroke-linejoin="miter" />
<path d="M563.8 238 L563.8 250" fill="none" stroke="#24a848" stroke-width="2.2" stroke-linecap="butt" stroke-linejoin="miter" />
<rect x="547.8" y="114.8" width="31" height="16" fill="#100010" stroke="#7a1cc8" stroke-width="1.6" />
<text x="563.3" y="126.6" font-family="Liberation Mono, sans-serif" font-size="9.5" font-weight="bold" fill="#620c12" text-anchor="middle" >0.0</text>
<rect x="547.8" y="193" width="31" height="15.6" fill="#100010" stroke="#7a1cc8" stroke-width="1.6" />
<text x="563.3" y="204.4" font-family="Liberation Mono, sans-serif" font-size="9.5" font-weight="bold" fill="#620c12" text-anchor="middle" >0.0</text>
<rect x="547.8" y="222.6" width="31" height="15.2" fill="#100010" stroke="#7a1cc8" stroke-width="1.6" />
<text x="563.3" y="233.6" font-family="Liberation Mono, sans-serif" font-size="9.5" font-weight="bold" fill="#620c12" text-anchor="middle" >0.0</text>
<text x="579" y="125" font-family="Liberation Sans, sans-serif" font-size="10.4" font-weight="bold" fill="#1418c8" text-anchor="start" >C</text>
<text x="579.8" y="204.5" font-family="Liberation Sans, sans-serif" font-size="8.2" font-weight="bold" fill="#1424e0" text-anchor="start" textLength="10" lengthAdjust="spacingAndGlyphs">PH</text>
<text x="578.4" y="234.4" font-family="Liberation Sans, sans-serif" font-size="10.4" font-weight="bold" fill="#1418c8" text-anchor="start" >C</text>
<circle cx="288.4" cy="256.5" r="5.2" fill="#183020"/>
<rect x="285.4" y="249.5" width="6" height="6" fill="#24a040" />
<rect x="283.4" y="260" width="11" height="3.5" fill="#101418" />
<circle cx="289" cy="257.5" r="2.6" fill="#d82020"/>
<circle cx="420.6" cy="257" r="5.2" fill="#183020"/>
<rect x="417.6" y="250" width="6" height="6" fill="#24a040" />
<rect x="415.6" y="260.5" width="11" height="3.5" fill="#101418" />
<circle cx="421.2" cy="258" r="2.6" fill="#d82020"/>
<circle cx="558.6" cy="255" r="5.2" fill="#183020"/>
<rect x="555.6" y="248" width="6" height="6" fill="#24a040" />
<rect x="553.6" y="258.5" width="11" height="3.5" fill="#101418" />
<circle cx="559.2" cy="256" r="2.6" fill="#d82020"/>
<polygon points="224.9,148.9 224.9,159.9 231.4,154.4" fill="#204028" />
<polygon points="237.9,148.9 237.9,159.9 231.4,154.4" fill="#204028" />
<path d="M231.4 154.4 L231.4 145.9" fill="none" stroke="#202020" stroke-width="1.4" stroke-linecap="butt" stroke-linejoin="miter" />
<rect x="228.2" y="137.4" width="6.4" height="9" fill="#e01818" stroke="#601010" stroke-width="0.8" />
<polygon points="348.1,149.9 348.1,160.9 354.6,155.4" fill="#204028" />
<polygon points="361.1,149.9 361.1,160.9 354.6,155.4" fill="#204028" />
<path d="M354.6 155.4 L354.6 146.9" fill="none" stroke="#202020" stroke-width="1.4" stroke-linecap="butt" stroke-linejoin="miter" />
<rect x="351.4" y="138.4" width="6.4" height="9" fill="#e01818" stroke="#601010" stroke-width="0.8" />
<polygon points="492.5,149.3 492.5,160.3 499,154.8" fill="#204028" />
<polygon points="505.5,149.3 505.5,160.3 499,154.8" fill="#204028" />
<path d="M499 154.8 L499 146.3" fill="none" stroke="#202020" stroke-width="1.4" stroke-linecap="butt" stroke-linejoin="miter" />
<rect x="495.8" y="137.8" width="6.4" height="9" fill="#e01818" stroke="#601010" stroke-width="0.8" />
<text x="231" y="166" font-family="Liberation Sans, sans-serif" font-size="5.5" font-weight="bold" fill="#48d838" text-anchor="middle" >VT</text>
<text x="354.4" y="166" font-family="Liberation Sans, sans-serif" font-size="5.5" font-weight="bold" fill="#48d838" text-anchor="middle" >VT</text>
<text x="499" y="166" font-family="Liberation Sans, sans-serif" font-size="5.5" font-weight="bold" fill="#48d838" text-anchor="middle" >VT</text>
<circle cx="236.3" cy="185.2" r="3.4" fill="#202428"/>
<path d="M234.3 183.2 L238.3 187.2" fill="none" stroke="#e8f0f0" stroke-width="0.9" stroke-linecap="butt" stroke-linejoin="miter" />
<path d="M234.3 187.2 L238.3 183.2" fill="none" stroke="#e8f0f0" stroke-width="0.9" stroke-linecap="butt" stroke-linejoin="miter" />
<path d="M236.3 188.6 L236.3 191.8" fill="none" stroke="#202428" stroke-width="1.2" stroke-linecap="butt" stroke-linejoin="miter" />
<rect x="232.9" y="192.4" width="6.8" height="4.8" fill="#f0f4f4" />
<path d="M233.7 192.8 L233.7 196.8 L235.7 196.8" fill="none" stroke="#202428" stroke-width="1" stroke-linecap="butt" stroke-linejoin="miter" />
<path d="M236.7 192.8 L239.3 192.8" fill="none" stroke="#202428" stroke-width="1" stroke-linecap="butt" stroke-linejoin="miter" />
<path d="M238 192.8 L238 197" fill="none" stroke="#202428" stroke-width="1" stroke-linecap="butt" stroke-linejoin="miter" />
<circle cx="236.3" cy="199.6" r="3.4" fill="#202428"/>
<path d="M234.3 197.6 L238.3 201.6" fill="none" stroke="#e8f0f0" stroke-width="0.9" stroke-linecap="butt" stroke-linejoin="miter" />
<path d="M234.3 201.6 L238.3 197.6" fill="none" stroke="#e8f0f0" stroke-width="0.9" stroke-linecap="butt" stroke-linejoin="miter" />
<path d="M236.3 203 L236.3 206.2" fill="none" stroke="#202428" stroke-width="1.2" stroke-linecap="butt" stroke-linejoin="miter" />
<rect x="232.9" y="205.2" width="6.8" height="4.8" fill="#f0f4f4" />
<path d="M233.7 205.6 L233.7 209.6 L235.7 209.6" fill="none" stroke="#202428" stroke-width="1" stroke-linecap="butt" stroke-linejoin="miter" />
<path d="M236.7 205.6 L239.3 205.6" fill="none" stroke="#202428" stroke-width="1" stroke-linecap="butt" stroke-linejoin="miter" />
<path d="M238 205.6 L238 209.8" fill="none" stroke="#202428" stroke-width="1" stroke-linecap="butt" stroke-linejoin="miter" />
<circle cx="236.3" cy="225.4" r="3.4" fill="#202428"/>
<path d="M234.3 223.4 L238.3 227.4" fill="none" stroke="#e8f0f0" stroke-width="0.9" stroke-linecap="butt" stroke-linejoin="miter" />
<path d="M234.3 227.4 L238.3 223.4" fill="none" stroke="#e8f0f0" stroke-width="0.9" stroke-linecap="butt" stroke-linejoin="miter" />
<path d="M236.3 228.8 L236.3 232" fill="none" stroke="#202428" stroke-width="1.2" stroke-linecap="butt" stroke-linejoin="miter" />
<rect x="232.9" y="232" width="6.8" height="4.8" fill="#f0f4f4" />
<path d="M233.7 232.4 L233.7 236.4 L235.7 236.4" fill="none" stroke="#202428" stroke-width="1" stroke-linecap="butt" stroke-linejoin="miter" />
<path d="M236.7 232.4 L239.3 232.4" fill="none" stroke="#202428" stroke-width="1" stroke-linecap="butt" stroke-linejoin="miter" />
<path d="M238 232.4 L238 236.6" fill="none" stroke="#202428" stroke-width="1" stroke-linecap="butt" stroke-linejoin="miter" />
<circle cx="368.3" cy="185.2" r="3.4" fill="#202428"/>
<path d="M366.3 183.2 L370.3 187.2" fill="none" stroke="#e8f0f0" stroke-width="0.9" stroke-linecap="butt" stroke-linejoin="miter" />
<path d="M366.3 187.2 L370.3 183.2" fill="none" stroke="#e8f0f0" stroke-width="0.9" stroke-linecap="butt" stroke-linejoin="miter" />
<path d="M368.3 188.6 L368.3 191.8" fill="none" stroke="#202428" stroke-width="1.2" stroke-linecap="butt" stroke-linejoin="miter" />
<rect x="364.9" y="192.4" width="6.8" height="4.8" fill="#f0f4f4" />
<path d="M365.7 192.8 L365.7 196.8 L367.7 196.8" fill="none" stroke="#202428" stroke-width="1" stroke-linecap="butt" stroke-linejoin="miter" />
<path d="M368.7 192.8 L371.3 192.8" fill="none" stroke="#202428" stroke-width="1" stroke-linecap="butt" stroke-linejoin="miter" />
<path d="M370 192.8 L370 197" fill="none" stroke="#202428" stroke-width="1" stroke-linecap="butt" stroke-linejoin="miter" />
<circle cx="368.3" cy="199.6" r="3.4" fill="#202428"/>
<path d="M366.3 197.6 L370.3 201.6" fill="none" stroke="#e8f0f0" stroke-width="0.9" stroke-linecap="butt" stroke-linejoin="miter" />
<path d="M366.3 201.6 L370.3 197.6" fill="none" stroke="#e8f0f0" stroke-width="0.9" stroke-linecap="butt" stroke-linejoin="miter" />
<path d="M368.3 203 L368.3 206.2" fill="none" stroke="#202428" stroke-width="1.2" stroke-linecap="butt" stroke-linejoin="miter" />
<rect x="364.9" y="205.2" width="6.8" height="4.8" fill="#f0f4f4" />
<path d="M365.7 205.6 L365.7 209.6 L367.7 209.6" fill="none" stroke="#202428" stroke-width="1" stroke-linecap="butt" stroke-linejoin="miter" />
<path d="M368.7 205.6 L371.3 205.6" fill="none" stroke="#202428" stroke-width="1" stroke-linecap="butt" stroke-linejoin="miter" />
<path d="M370 205.6 L370 209.8" fill="none" stroke="#202428" stroke-width="1" stroke-linecap="butt" stroke-linejoin="miter" />
<circle cx="368.3" cy="225.4" r="3.4" fill="#202428"/>
<path d="M366.3 223.4 L370.3 227.4" fill="none" stroke="#e8f0f0" stroke-width="0.9" stroke-linecap="butt" stroke-linejoin="miter" />
<path d="M366.3 227.4 L370.3 223.4" fill="none" stroke="#e8f0f0" stroke-width="0.9" stroke-linecap="butt" stroke-linejoin="miter" />
<path d="M368.3 228.8 L368.3 232" fill="none" stroke="#202428" stroke-width="1.2" stroke-linecap="butt" stroke-linejoin="miter" />
<rect x="364.9" y="232" width="6.8" height="4.8" fill="#f0f4f4" />
<path d="M365.7 232.4 L365.7 236.4 L367.7 236.4" fill="none" stroke="#202428" stroke-width="1" stroke-linecap="butt" stroke-linejoin="miter" />
<path d="M368.7 232.4 L371.3 232.4" fill="none" stroke="#202428" stroke-width="1" stroke-linecap="butt" stroke-linejoin="miter" />
<path d="M370 232.4 L370 236.6" fill="none" stroke="#202428" stroke-width="1" stroke-linecap="butt" stroke-linejoin="miter" />
<circle cx="507.6" cy="185.2" r="3.4" fill="#202428"/>
<path d="M505.6 183.2 L509.6 187.2" fill="none" stroke="#e8f0f0" stroke-width="0.9" stroke-linecap="butt" stroke-linejoin="miter" />
<path d="M505.6 187.2 L509.6 183.2" fill="none" stroke="#e8f0f0" stroke-width="0.9" stroke-linecap="butt" stroke-linejoin="miter" />
<path d="M507.6 188.6 L507.6 191.8" fill="none" stroke="#202428" stroke-width="1.2" stroke-linecap="butt" stroke-linejoin="miter" />
<rect x="504.2" y="192.4" width="6.8" height="4.8" fill="#f0f4f4" />
<path d="M505 192.8 L505 196.8 L507 196.8" fill="none" stroke="#202428" stroke-width="1" stroke-linecap="butt" stroke-linejoin="miter" />
<path d="M508 192.8 L510.6 192.8" fill="none" stroke="#202428" stroke-width="1" stroke-linecap="butt" stroke-linejoin="miter" />
<path d="M509.3 192.8 L509.3 197" fill="none" stroke="#202428" stroke-width="1" stroke-linecap="butt" stroke-linejoin="miter" />
<circle cx="507.6" cy="199.6" r="3.4" fill="#202428"/>
<path d="M505.6 197.6 L509.6 201.6" fill="none" stroke="#e8f0f0" stroke-width="0.9" stroke-linecap="butt" stroke-linejoin="miter" />
<path d="M505.6 201.6 L509.6 197.6" fill="none" stroke="#e8f0f0" stroke-width="0.9" stroke-linecap="butt" stroke-linejoin="miter" />
<path d="M507.6 203 L507.6 206.2" fill="none" stroke="#202428" stroke-width="1.2" stroke-linecap="butt" stroke-linejoin="miter" />
<rect x="504.2" y="205.2" width="6.8" height="4.8" fill="#f0f4f4" />
<path d="M505 205.6 L505 209.6 L507 209.6" fill="none" stroke="#202428" stroke-width="1" stroke-linecap="butt" stroke-linejoin="miter" />
<path d="M508 205.6 L510.6 205.6" fill="none" stroke="#202428" stroke-width="1" stroke-linecap="butt" stroke-linejoin="miter" />
<path d="M509.3 205.6 L509.3 209.8" fill="none" stroke="#202428" stroke-width="1" stroke-linecap="butt" stroke-linejoin="miter" />
<circle cx="507.6" cy="225.4" r="3.4" fill="#202428"/>
<path d="M505.6 223.4 L509.6 227.4" fill="none" stroke="#e8f0f0" stroke-width="0.9" stroke-linecap="butt" stroke-linejoin="miter" />
<path d="M505.6 227.4 L509.6 223.4" fill="none" stroke="#e8f0f0" stroke-width="0.9" stroke-linecap="butt" stroke-linejoin="miter" />
<path d="M507.6 228.8 L507.6 232" fill="none" stroke="#202428" stroke-width="1.2" stroke-linecap="butt" stroke-linejoin="miter" />
<rect x="504.2" y="232" width="6.8" height="4.8" fill="#f0f4f4" />
<path d="M505 232.4 L505 236.4 L507 236.4" fill="none" stroke="#202428" stroke-width="1" stroke-linecap="butt" stroke-linejoin="miter" />
<path d="M508 232.4 L510.6 232.4" fill="none" stroke="#202428" stroke-width="1" stroke-linecap="butt" stroke-linejoin="miter" />
<path d="M509.3 232.4 L509.3 236.6" fill="none" stroke="#202428" stroke-width="1" stroke-linecap="butt" stroke-linejoin="miter" />
<polygon points="203.6,217.6 213.6,217.6 208.6,225.1" fill="#e81c1c" />
<polygon points="203.6,232.6 213.6,232.6 208.6,225.1" fill="#e81c1c" />
<path d="M208.6 225.1 L217.6 225.1" fill="none" stroke="#301010" stroke-width="1.4" stroke-linecap="butt" stroke-linejoin="miter" />
<rect x="214.6" y="221.3" width="9" height="7.6" fill="#e01818" stroke="#601010" stroke-width="0.8" />
<polygon points="197.6,237.2 197.6,243.7 201.6,240.4" fill="#1c2ce2" />
<polygon points="205.6,237.2 205.6,243.7 201.6,240.4" fill="#1c2ce2" />
<rect x="216.6" y="235" width="10.9" height="4.5" fill="#1c28e6" />
<circle cx="217.6" cy="241.9" r="5.3" fill="#1c28e6"/>
<rect x="212.3" y="245.1" width="10.6" height="2.5" fill="#1c28e6" />
<circle cx="217.6" cy="241.9" r="2.6" fill="#e81820"/>
<polygon points="337.8,213.8 348.2,213.8 343,221.3" fill="#e81c1c" />
<polygon points="337.8,228.8 348.2,228.8 343,221.3" fill="#e81c1c" />
<path d="M343 221.3 L352.4 221.3" fill="none" stroke="#301010" stroke-width="1.4" stroke-linecap="butt" stroke-linejoin="miter" />
<rect x="349.2" y="217.5" width="9" height="7.6" fill="#e01818" stroke="#601010" stroke-width="0.8" />
<polygon points="331.6,237.2 331.6,243.7 335.6,240.4" fill="#1c2ce2" />
<polygon points="339.6,237.2 339.6,243.7 335.6,240.4" fill="#1c2ce2" />
<rect x="348.8" y="234.4" width="10.6" height="4.5" fill="#1c28e6" />
<circle cx="349.8" cy="241.3" r="5.3" fill="#1c28e6"/>
<rect x="344.5" y="244.5" width="10.6" height="2.5" fill="#1c28e6" />
<circle cx="349.8" cy="241.3" r="2.6" fill="#e81820"/>
<polygon points="477,213.4 487,213.4 482,220.7" fill="#e81c1c" />
<polygon points="477,228 487,228 482,220.7" fill="#e81c1c" />
<path d="M482 220.7 L491 220.7" fill="none" stroke="#301010" stroke-width="1.4" stroke-linecap="butt" stroke-linejoin="miter" />
<rect x="488" y="216.9" width="9" height="7.6" fill="#e01818" stroke="#601010" stroke-width="0.8" />
<path d="M461.9 229.5 L470.9 229.5" fill="none" stroke="#74e060" stroke-width="2" stroke-linecap="butt" stroke-linejoin="miter" />
<path d="M466.4 229.5 L466.4 236" fill="none" stroke="#b8ecb0" stroke-width="1.2" stroke-linecap="butt" stroke-linejoin="miter" />
<polygon points="461.9,233 461.9,239 466.4,236" fill="#f4f8f4" stroke="#c8d8d0" stroke-width="0.5" />
<polygon points="470.9,233 470.9,239 466.4,236" fill="#f4f8f4" stroke="#c8d8d0" stroke-width="0.5" />
<polygon points="472.5,238 472.5,244 476,241" fill="#1c2ce2" />
<polygon points="479.5,238 479.5,244 476,241" fill="#1c2ce2" />
<rect x="484.8" y="234.6" width="11.2" height="4.9" fill="#1c28e6" />
<circle cx="485.8" cy="242.1" r="5.7" fill="#1c28e6"/>
<rect x="480" y="245.5" width="11.4" height="2.7" fill="#1c28e6" />
<circle cx="485.8" cy="242.1" r="2.9" fill="#e81820"/>
<path d="M482 250 L482 262" fill="none" stroke="#2a8a50" stroke-width="1.6" stroke-linecap="butt" stroke-linejoin="miter" />
<path d="M488 254 L488 264" fill="none" stroke="#62e23a" stroke-width="2" stroke-linecap="butt" stroke-linejoin="miter" />
<path d="M344 250 L344 262" fill="none" stroke="#2a8a50" stroke-width="1.4" stroke-linecap="butt" stroke-linejoin="miter" />
<path d="M350 254 L350 264" fill="none" stroke="#62e23a" stroke-width="2" stroke-linecap="butt" stroke-linejoin="miter" />
<rect x="101.4" y="127.2" width="42.2" height="59.4" fill="#1038fc" stroke="#3414c8" stroke-width="1.4" />
<rect x="102" y="127.8" width="41" height="19" fill="#06060c" />
<path d="M129 137 L129 180" fill="none" stroke="#101030" stroke-width="1.2" stroke-linecap="butt" stroke-linejoin="miter" />
<path d="M132 157.6 L143 157.6" fill="none" stroke="#101030" stroke-width="1.6" stroke-linecap="butt" stroke-linejoin="miter" />
<path d="M132 157.6 L132 181" fill="none" stroke="#101030" stroke-width="1.2" stroke-linecap="butt" stroke-linejoin="miter" />
<path d="M99 175.4 L108 175.4" fill="none" stroke="#101030" stroke-width="1.4" stroke-linecap="butt" stroke-linejoin="miter" />
<text x="111" y="134" font-family="Liberation Sans, sans-serif" font-size="4.6" font-weight="bold" fill="#e0f0e0" text-anchor="start" >LT</text>
<text x="127" y="181.5" font-family="Liberation Sans, sans-serif" font-size="4.6" font-weight="bold" fill="#e0f0e0" text-anchor="start" >LT</text>
<rect x="80.4" y="136.4" width="17.8" height="14.6" fill="#56ea26" />
<rect x="84" y="141.1" width="3.9" height="5.3" fill="#a8f090" opacity="0.8"/>
<rect x="89.7" y="141.1" width="4.6" height="5.3" fill="#a8f090" opacity="0.7"/>
<rect x="80.4" y="167" width="17.8" height="16" fill="#56ea26" />
<rect x="84" y="172.1" width="3.9" height="5.8" fill="#a8f090" opacity="0.8"/>
<rect x="89.7" y="172.1" width="4.6" height="5.8" fill="#a8f090" opacity="0.7"/>
<path d="M98 143.6 L101 143.6" fill="none" stroke="#202830" stroke-width="1.2" stroke-linecap="butt" stroke-linejoin="miter" />
<path d="M148 129.9 L156.4 129.9" fill="none" stroke="#74e060" stroke-width="2" stroke-linecap="butt" stroke-linejoin="miter" />
<path d="M152.2 129.9 L152.2 136.4" fill="none" stroke="#b8ecb0" stroke-width="1.2" stroke-linecap="butt" stroke-linejoin="miter" />
<polygon points="148,133.4 148,139.4 152.2,136.4" fill="#f4f8f4" stroke="#c8d8d0" stroke-width="0.5" />
<polygon points="156.4,133.4 156.4,139.4 152.2,136.4" fill="#f4f8f4" stroke="#c8d8d0" stroke-width="0.5" />
<path d="M148 151.1 L156.4 151.1" fill="none" stroke="#74e060" stroke-width="2" stroke-linecap="butt" stroke-linejoin="miter" />
<path d="M152.2 151.1 L152.2 157.6" fill="none" stroke="#b8ecb0" stroke-width="1.2" stroke-linecap="butt" stroke-linejoin="miter" />
<polygon points="148,154.6 148,160.6 152.2,157.6" fill="#f4f8f4" stroke="#c8d8d0" stroke-width="0.5" />
<polygon points="156.4,154.6 156.4,160.6 152.2,157.6" fill="#f4f8f4" stroke="#c8d8d0" stroke-width="0.5" />
<path d="M148 173.7 L156.4 173.7" fill="none" stroke="#74e060" stroke-width="2" stroke-linecap="butt" stroke-linejoin="miter" />
<path d="M152.2 173.7 L152.2 180.2" fill="none" stroke="#b8ecb0" stroke-width="1.2" stroke-linecap="butt" stroke-linejoin="miter" />
<polygon points="148,177.2 148,183.2 152.2,180.2" fill="#f4f8f4" stroke="#c8d8d0" stroke-width="0.5" />
<polygon points="156.4,177.2 156.4,183.2 152.2,180.2" fill="#f4f8f4" stroke="#c8d8d0" stroke-width="0.5" />
<rect x="163" y="131" width="14" height="5" fill="#181a1e" />
<circle cx="168.8" cy="138.7" r="5.3" fill="#181a1e"/>
<rect x="163.4" y="141.9" width="10.6" height="3.1" fill="#181a1e" />
<circle cx="168.8" cy="138.7" r="2.4" fill="#8a9094"/>
<rect x="163" y="152" width="14" height="4.9" fill="#181a1e" />
<circle cx="168.8" cy="159.5" r="5.2" fill="#181a1e"/>
<rect x="163.6" y="162.6" width="10.3" height="3" fill="#181a1e" />
<circle cx="168.8" cy="159.5" r="2.3" fill="#8a9094"/>
<rect x="163" y="173.4" width="14" height="5" fill="#181a1e" />
<circle cx="168.8" cy="181.1" r="5.3" fill="#181a1e"/>
<rect x="163.4" y="184.3" width="10.6" height="3.1" fill="#181a1e" />
<circle cx="168.8" cy="181.1" r="2.4" fill="#8a9094"/>
<polygon points="85.9,89.4 85.9,103.4 93.6,96.4" fill="#e81c1c" />
<polygon points="101.3,89.4 101.3,103.4 93.6,96.4" fill="#e81c1c" />
<path d="M93.6 96.4 L93.6 86.4" fill="none" stroke="#202020" stroke-width="1.4" stroke-linecap="butt" stroke-linejoin="miter" />
<rect x="90.4" y="81.8" width="6.4" height="7" fill="#e01818" stroke="#601010" stroke-width="0.8" />
<path d="M86.4 103.9 L94.4 103.9" fill="none" stroke="#74e060" stroke-width="2" stroke-linecap="butt" stroke-linejoin="miter" />
<path d="M90.4 103.9 L90.4 110.4" fill="none" stroke="#b8ecb0" stroke-width="1.2" stroke-linecap="butt" stroke-linejoin="miter" />
<polygon points="86.4,107.4 86.4,113.4 90.4,110.4" fill="#f4f8f4" stroke="#c8d8d0" stroke-width="0.5" />
<polygon points="94.4,107.4 94.4,113.4 90.4,110.4" fill="#f4f8f4" stroke="#c8d8d0" stroke-width="0.5" />
<rect x="108.4" y="247.4" width="26.6" height="32.6" fill="#7406f2" stroke="#2420e2" stroke-width="2" />
<rect x="109.6" y="248.6" width="24.2" height="4.6" fill="#f2f4f8" />
<path d="M132 249 L132 276" fill="none" stroke="#2a20c0" stroke-width="1" stroke-linecap="butt" stroke-linejoin="miter" />
<rect x="84.4" y="261.4" width="19.6" height="24" fill="#56ea26" />
<rect x="88" y="265.4" width="8" height="5" fill="#a8f090" />
<rect x="88" y="275.4" width="8" height="5" fill="#a8f090" />
<path d="M104 267.4 L108 267.4" fill="none" stroke="#8a9098" stroke-width="1.2" stroke-linecap="butt" stroke-linejoin="miter" />
<path d="M104 279.4 L108 279.4" fill="none" stroke="#8a9098" stroke-width="1.2" stroke-linecap="butt" stroke-linejoin="miter" />
<path d="M141.6 269.3 L149.6 269.3" fill="none" stroke="#74e060" stroke-width="2" stroke-linecap="butt" stroke-linejoin="miter" />
<path d="M145.6 269.3 L145.6 275.8" fill="none" stroke="#b8ecb0" stroke-width="1.2" stroke-linecap="butt" stroke-linejoin="miter" />
<polygon points="141.6,272.8 141.6,278.8 145.6,275.8" fill="#f4f8f4" stroke="#c8d8d0" stroke-width="0.5" />
<polygon points="149.6,272.8 149.6,278.8 145.6,275.8" fill="#f4f8f4" stroke="#c8d8d0" stroke-width="0.5" />
<path d="M102.6 215.7 L110.6 215.7" fill="none" stroke="#74e060" stroke-width="2" stroke-linecap="butt" stroke-linejoin="miter" />
<path d="M106.6 215.7 L106.6 222.2" fill="none" stroke="#b8ecb0" stroke-width="1.2" stroke-linecap="butt" stroke-linejoin="miter" />
<polygon points="102.6,219.2 102.6,225.2 106.6,222.2" fill="#f4f8f4" stroke="#c8d8d0" stroke-width="0.5" />
<polygon points="110.6,219.2 110.6,225.2 106.6,222.2" fill="#f4f8f4" stroke="#c8d8d0" stroke-width="0.5" />
<rect x="157" y="267.4" width="13" height="5.4" fill="#1c28e6" />
<circle cx="161.6" cy="277" r="6.6" fill="#1c28e6"/>
<rect x="155.4" y="284.6" width="12.4" height="5.4" fill="#1c28e6" />
<circle cx="161.4" cy="275.6" r="3" fill="#e01c24"/>
<polygon points="99.2,329 124.8,329 124.8,362.4 117.2,383.6 108.6,383.6 99.2,362.4" fill="url(#silo)" />
<rect x="110" y="309.8" width="4.4" height="13" fill="#e8e060" stroke="#a09020" stroke-width="0.7" />
<path d="M112.2 311.4 L112.2 321.4" fill="none" stroke="#d02020" stroke-width="1.2" stroke-linecap="butt" stroke-linejoin="miter" stroke-dasharray="2 1.4"/>
<path d="M112.4 322.8 L112.4 329" fill="none" stroke="#802020" stroke-width="1.6" stroke-linecap="butt" stroke-linejoin="miter" />
<ellipse cx="122.6" cy="315" rx="3.6" ry="2.8" fill="#f0e828"/>
<circle cx="123" cy="322.6" r="3.3" fill="#4ade38"/>
<rect x="119" y="316.6" width="3" height="2.4" fill="#8020c0" />
<text x="102.6" y="345.6" font-family="Liberation Sans, sans-serif" font-size="7.4" font-weight="bold" fill="#1c2cf0" text-anchor="start" textLength="13" lengthAdjust="spacingAndGlyphs">NTM</text>
<circle cx="64.4" cy="347.4" r="3.5" fill="#e8eeee" stroke="#101418" stroke-width="1.8"/>
<path d="M64.4 351 L64.4 358" fill="none" stroke="#101418" stroke-width="1.8" stroke-linecap="butt" stroke-linejoin="miter" />
<rect x="61.4" y="353.4" width="6" height="3.4" fill="#101418" />
<circle cx="72.4" cy="347.4" r="3.5" fill="#e8eeee" stroke="#101418" stroke-width="1.8"/>
<path d="M72.4 351 L72.4 358" fill="none" stroke="#101418" stroke-width="1.8" stroke-linecap="butt" stroke-linejoin="miter" />
<rect x="69.4" y="353.4" width="6" height="3.4" fill="#101418" />
<polygon points="80,336.3 80,342.9 84,339.6" fill="#181c20" />
<polygon points="88,336.3 88,342.9 84,339.6" fill="#181c20" />
<rect x="87.4" y="370.4" width="7" height="3.2" fill="#101418" />
<rect x="87.4" y="383" width="7" height="3.2" fill="#101418" />
<path d="M90.8 372 L90.8 384" fill="none" stroke="#101418" stroke-width="2" stroke-linecap="butt" stroke-linejoin="miter" />
<path d="M90.8 378 L103 378" fill="none" stroke="#101418" stroke-width="2.6" stroke-linecap="butt" stroke-linejoin="miter" />
<circle cx="104.6" cy="377.6" r="6" fill="#101418"/>
<circle cx="104.6" cy="377.6" r="2.4" fill="#d8dce0"/>
<circle cx="112.8" cy="394.8" r="6.2" fill="#a04468" stroke="#78102c" stroke-width="2.6"/>
<path d="M106.4 394.8 L119.2 394.8" fill="none" stroke="#700c28" stroke-width="2" stroke-linecap="butt" stroke-linejoin="miter" />
<path d="M112.8 388 L112.8 401.4" fill="none" stroke="#700c28" stroke-width="2" stroke-linecap="butt" stroke-linejoin="miter" />
<circle cx="112.8" cy="394.8" r="2" fill="#600820"/>
<path d="M100.6 395 L106.6 395" fill="none" stroke="#80103a" stroke-width="2.4" stroke-linecap="butt" stroke-linejoin="miter" />
<ellipse cx="98.4" cy="395.4" rx="3" ry="5" fill="#181c1c"/>
<ellipse cx="98.4" cy="395" rx="1.7" ry="2.6" fill="#48e038"/>
<circle cx="112.6" cy="406" r="2.2" fill="#701830"/>
<polygon points="107,411.4 119.2,411.4 118,418 119.2,424.4 107,424.4 108.2,418" fill="#101418" />
<rect x="109.6" y="409.6" width="7" height="2.4" fill="#101418" />
<rect x="109.6" y="424" width="7" height="2.2" fill="#101418" />
<rect x="127.6" y="328.8" width="18.6" height="12.4" fill="#56ea26" />
<rect x="131.3" y="332.8" width="4.1" height="4.5" fill="#a8f090" opacity="0.8"/>
<rect x="137.3" y="332.8" width="4.8" height="4.5" fill="#a8f090" opacity="0.7"/>
<rect x="127.6" y="346.4" width="18.6" height="12.4" fill="#56ea26" />
<rect x="131.3" y="350.4" width="4.1" height="4.5" fill="#a8f090" opacity="0.8"/>
<rect x="137.3" y="350.4" width="4.8" height="4.5" fill="#a8f090" opacity="0.7"/>
<rect x="143.8" y="359" width="18" height="12.4" fill="#56ea26" />
<rect x="147.4" y="363" width="4" height="4.5" fill="#a8f090" opacity="0.8"/>
<rect x="153.2" y="363" width="4.7" height="4.5" fill="#a8f090" opacity="0.7"/>
<rect x="143.8" y="373.4" width="18" height="12.2" fill="#56ea26" />
<rect x="147.4" y="377.3" width="4" height="4.4" fill="#a8f090" opacity="0.8"/>
<rect x="153.2" y="377.3" width="4.7" height="4.4" fill="#a8f090" opacity="0.7"/>
<rect x="143.8" y="390.5" width="18" height="12.4" fill="#56ea26" />
<rect x="147.4" y="394.5" width="4" height="4.5" fill="#a8f090" opacity="0.8"/>
<rect x="153.2" y="394.5" width="4.7" height="4.5" fill="#a8f090" opacity="0.7"/>
<rect x="143.8" y="403.9" width="18" height="12.3" fill="#56ea26" />
<rect x="147.4" y="407.8" width="4" height="4.4" fill="#a8f090" opacity="0.8"/>
<rect x="153.2" y="407.8" width="4.7" height="4.4" fill="#a8f090" opacity="0.7"/>
<rect x="164.4" y="356.4" width="13" height="58" fill="#e6f0f4" />
<rect x="165.6" y="367.4" width="11.4" height="46" fill="#22d4a0" />
<rect x="165.6" y="362.4" width="11.4" height="5" fill="#9adcd8" />
<rect x="178.6" y="355.6" width="50" height="11.8" fill="#eef2f6" />
<rect x="178.6" y="367" width="50" height="48" fill="#7410f2" />
<path d="M192.8 354 L192.8 390" fill="none" stroke="#9aa4ac" stroke-width="1.6" stroke-linecap="butt" stroke-linejoin="miter" />
<path d="M201.6 356 L201.6 396" fill="none" stroke="#3a40e0" stroke-width="1.2" stroke-linecap="butt" stroke-linejoin="miter" />
<path d="M208 356 L208 396" fill="none" stroke="#3a40e0" stroke-width="1.2" stroke-linecap="butt" stroke-linejoin="miter" />
<path d="M223.4 356 L223.4 396" fill="none" stroke="#3a40e0" stroke-width="1.2" stroke-linecap="butt" stroke-linejoin="miter" />
<polygon points="180.6,355.4 185.2,355.4 182.9,360.8" fill="#28c890" />
<polygon points="209.6,357.6 215.2,357.6 212.4,365" fill="#1eb482" />
<polygon points="216.4,357.6 222,357.6 219.2,365" fill="#1eb482" />
<path d="M163.6 415.4 L163.6 356 L177.8 356 L177.8 415.4" fill="none" stroke="#1c28e6" stroke-width="2.4" stroke-linecap="butt" stroke-linejoin="miter" />
<path d="M162.4 415 L230.8 415" fill="none" stroke="#1c28e6" stroke-width="2.6" stroke-linecap="butt" stroke-linejoin="miter" />
<path d="M177.8 354.6 L229.6 354.6 L229.6 416" fill="none" stroke="#1c28e6" stroke-width="2.2" stroke-linecap="butt" stroke-linejoin="miter" />
<path d="M169.5 390.6 L201.4 390.6" fill="none" stroke="#101418" stroke-width="2.4" stroke-linecap="butt" stroke-linejoin="miter" />
<polygon points="169.5,385.7 178.3,390.6 169.5,395.6 172.8,390.6" fill="#101418" />
<ellipse cx="183.8" cy="391.3" rx="5" ry="2.9" fill="#101418"/>
<rect x="195.9" y="388.4" width="6.6" height="3.7" fill="#101418" />
<path d="M163 378.6 L174 378.6" fill="none" stroke="#202830" stroke-width="1.2" stroke-linecap="butt" stroke-linejoin="miter" />
<polygon points="199,404 203,396 207,404" fill="#5a50ff" />
<polygon points="170.4,341.4 183.4,341.4 181.4,350.6 172.4,350.6" fill="#1c2a18" />
<rect x="172.4" y="342.9" width="9" height="2.6" fill="#9ab8a0" />
<rect x="173.4" y="346.4" width="7" height="2.2" fill="#2c8a3c" />
<polygon points="186,344 199.8,344 197.8,353.2 188,353.2" fill="#1c2a18" />
<rect x="188" y="345.5" width="9.8" height="2.6" fill="#9ab8a0" />
<rect x="189" y="349" width="7.8" height="2.2" fill="#2c8a3c" />
<rect x="182.4" y="425.4" width="28.4" height="15.4" fill="#100010" stroke="#7a1cc8" stroke-width="1.6" />
<text x="196.6" y="436.6" font-family="Liberation Mono, sans-serif" font-size="9.5" font-weight="bold" fill="#620c12" text-anchor="middle" >0.0</text>
<rect x="105.6" y="450" width="33" height="52" fill="#f2f4f0" />
<rect x="106.4" y="461" width="31.6" height="40.4" fill="#eef26a" />
<path d="M106.4 466 L138 466" fill="none" stroke="#f8fac0" stroke-width="0.7" stroke-linecap="butt" stroke-linejoin="miter" />
<path d="M106.4 471 L138 471" fill="none" stroke="#f8fac0" stroke-width="0.7" stroke-linecap="butt" stroke-linejoin="miter" />
<path d="M106.4 476 L138 476" fill="none" stroke="#f8fac0" stroke-width="0.7" stroke-linecap="butt" stroke-linejoin="miter" />
<path d="M106.4 481 L138 481" fill="none" stroke="#f8fac0" stroke-width="0.7" stroke-linecap="butt" stroke-linejoin="miter" />
<path d="M106.4 486 L138 486" fill="none" stroke="#f8fac0" stroke-width="0.7" stroke-linecap="butt" stroke-linejoin="miter" />
<path d="M106.4 491 L138 491" fill="none" stroke="#f8fac0" stroke-width="0.7" stroke-linecap="butt" stroke-linejoin="miter" />
<path d="M106.4 496 L138 496" fill="none" stroke="#f8fac0" stroke-width="0.7" stroke-linecap="butt" stroke-linejoin="miter" />
<path d="M111 461 L111 501" fill="none" stroke="#f8fac0" stroke-width="0.7" stroke-linecap="butt" stroke-linejoin="miter" />
<path d="M116 461 L116 501" fill="none" stroke="#f8fac0" stroke-width="0.7" stroke-linecap="butt" stroke-linejoin="miter" />
<path d="M121 461 L121 501" fill="none" stroke="#f8fac0" stroke-width="0.7" stroke-linecap="butt" stroke-linejoin="miter" />
<path d="M126 461 L126 501" fill="none" stroke="#f8fac0" stroke-width="0.7" stroke-linecap="butt" stroke-linejoin="miter" />
<path d="M131 461 L131 501" fill="none" stroke="#f8fac0" stroke-width="0.7" stroke-linecap="butt" stroke-linejoin="miter" />
<path d="M136 461 L136 501" fill="none" stroke="#f8fac0" stroke-width="0.7" stroke-linecap="butt" stroke-linejoin="miter" />
<path d="M121.4 443 L121.4 480" fill="none" stroke="#9aa4ac" stroke-width="1.4" stroke-linecap="butt" stroke-linejoin="miter" />
<path d="M110.2 480.6 L134.9 480.6" fill="none" stroke="#101418" stroke-width="1.9" stroke-linecap="butt" stroke-linejoin="miter" />
<polygon points="110.2,476.8 117,480.6 110.2,484.4 112.8,480.6" fill="#101418" />
<ellipse cx="121.3" cy="481.1" rx="3.8" ry="2.2" fill="#101418"/>
<rect x="130.7" y="478.9" width="5.1" height="2.9" fill="#101418" />
<path d="M104.6 449 L104.6 502.6 L139.4 502.6 L139.4 449" fill="none" stroke="#2a2ae0" stroke-width="2.6" stroke-linecap="butt" stroke-linejoin="miter" />
<rect x="136.4" y="451" width="2.6" height="24" fill="#e08840" />
<polygon points="116.4,436.6 127.4,436.6 125.4,444.2 118.4,444.2" fill="#1c2a18" />
<rect x="118.4" y="438.1" width="7" height="2.6" fill="#9ab8a0" />
<rect x="119.4" y="441.6" width="5" height="2.2" fill="#2c8a3c" />
<rect x="81.8" y="455.2" width="18.2" height="14" fill="#56ea26" />
<rect x="85.4" y="459.7" width="4" height="5" fill="#a8f090" opacity="0.8"/>
<rect x="91.3" y="459.7" width="4.7" height="5" fill="#a8f090" opacity="0.7"/>
<rect x="81.8" y="470.4" width="18.2" height="14.6" fill="#56ea26" />
<rect x="85.4" y="475.1" width="4" height="5.3" fill="#a8f090" opacity="0.8"/>
<rect x="91.3" y="475.1" width="4.7" height="5.3" fill="#a8f090" opacity="0.7"/>
<rect x="81.8" y="488" width="18.2" height="13.2" fill="#56ea26" />
<rect x="85.4" y="492.2" width="4" height="4.8" fill="#a8f090" opacity="0.8"/>
<rect x="91.3" y="492.2" width="4.7" height="4.8" fill="#a8f090" opacity="0.7"/>
<path d="M100 463 L112 463" fill="none" stroke="#202830" stroke-width="1.2" stroke-linecap="butt" stroke-linejoin="miter" />
<path d="M100 477.6 L112 477.6" fill="none" stroke="#202830" stroke-width="1.2" stroke-linecap="butt" stroke-linejoin="miter" />
<path d="M100 494.6 L112 494.6" fill="none" stroke="#202830" stroke-width="1.2" stroke-linecap="butt" stroke-linejoin="miter" />
<polygon points="70.7,432 70.7,443.6 77,437.8" fill="#101418" />
<polygon points="83.3,432 83.3,443.6 77,437.8" fill="#101418" />
<path d="M77 437.8 L77 429" fill="none" stroke="#202020" stroke-width="1.4" stroke-linecap="butt" stroke-linejoin="miter" />
<rect x="73.8" y="424.6" width="6.4" height="7" fill="#c02020" stroke="#601010" stroke-width="0.8" />
<path d="M73.4 443.1 L81.4 443.1" fill="none" stroke="#74e060" stroke-width="2" stroke-linecap="butt" stroke-linejoin="miter" />
<path d="M77.4 443.1 L77.4 449.6" fill="none" stroke="#b8ecb0" stroke-width="1.2" stroke-linecap="butt" stroke-linejoin="miter" />
<polygon points="73.4,446.6 73.4,452.6 77.4,449.6" fill="#f4f8f4" stroke="#c8d8d0" stroke-width="0.5" />
<polygon points="81.4,446.6 81.4,452.6 77.4,449.6" fill="#f4f8f4" stroke="#c8d8d0" stroke-width="0.5" />
<polygon points="166.6,449.8 178,449.8 172.3,458.8" fill="#f0f040" stroke="#b0b020" stroke-width="0.6" />
<polygon points="166.6,467.6 178,467.6 172.3,458.8" fill="#f0f040" stroke="#b0b020" stroke-width="0.6" />
<path d="M172.3 459 L182 459" fill="none" stroke="#202428" stroke-width="1.6" stroke-linecap="butt" stroke-linejoin="miter" />
<ellipse cx="186.6" cy="460" rx="4.8" ry="7.2" fill="#2a2e34"/>
<ellipse cx="186.4" cy="460" rx="2.2" ry="3.8" fill="#8a9890"/>
<path d="M145.1 468.5 L153.7 468.5" fill="none" stroke="#74e060" stroke-width="2" stroke-linecap="butt" stroke-linejoin="miter" />
<path d="M149.4 468.5 L149.4 475" fill="none" stroke="#b8ecb0" stroke-width="1.2" stroke-linecap="butt" stroke-linejoin="miter" />
<polygon points="145.1,472 145.1,478 149.4,475" fill="#f4f8f4" stroke="#c8d8d0" stroke-width="0.5" />
<polygon points="153.7,472 153.7,478 149.4,475" fill="#f4f8f4" stroke="#c8d8d0" stroke-width="0.5" />
<polygon points="154.9,472 154.9,479.6 159.2,475.8" fill="#1c2ce2" />
<polygon points="163.5,472 163.5,479.6 159.2,475.8" fill="#1c2ce2" />
<rect x="190.8" y="470" width="10.6" height="4.8" fill="#1c28e6" />
<circle cx="191.8" cy="477.4" r="5.6" fill="#1c28e6"/>
<rect x="186.2" y="480.7" width="11.3" height="2.7" fill="#1c28e6" />
<circle cx="191.8" cy="477.4" r="2.8" fill="#e81820"/>
<rect x="170.6" y="488" width="8.4" height="2.4" fill="#e8eef0" stroke="#90a0a8" stroke-width="0.5" />
<rect x="170.6" y="496" width="8.4" height="2.4" fill="#e8eef0" stroke="#90a0a8" stroke-width="0.5" />
<path d="M180.2 488.4 L180.2 496.6" fill="none" stroke="#62e23a" stroke-width="2" stroke-linecap="butt" stroke-linejoin="miter" />
<path d="M257 366.2 L275.4 366.2" fill="none" stroke="#2a44e0" stroke-width="2" stroke-linecap="butt" stroke-linejoin="miter" />
<polygon points="251.2,369 261.6,369 256.4,376.7" fill="#e81c1c" />
<polygon points="251.2,384.4 261.6,384.4 256.4,376.7" fill="#e81c1c" />
<path d="M256.4 376.7 L265.8 376.7" fill="none" stroke="#301010" stroke-width="1.4" stroke-linecap="butt" stroke-linejoin="miter" />
<rect x="262.6" y="372.9" width="9" height="7.6" fill="#e01818" stroke="#601010" stroke-width="0.8" />
<path d="M232.4 386.9 L240.4 386.9" fill="none" stroke="#74e060" stroke-width="2" stroke-linecap="butt" stroke-linejoin="miter" />
<path d="M236.4 386.9 L236.4 393.4" fill="none" stroke="#b8ecb0" stroke-width="1.2" stroke-linecap="butt" stroke-linejoin="miter" />
<polygon points="232.4,390.4 232.4,396.4 236.4,393.4" fill="#f4f8f4" stroke="#c8d8d0" stroke-width="0.5" />
<polygon points="240.4,390.4 240.4,396.4 236.4,393.4" fill="#f4f8f4" stroke="#c8d8d0" stroke-width="0.5" />
<polygon points="242.3,390.3 242.3,397.3 246.6,393.8" fill="#1c2ce2" />
<polygon points="250.9,390.3 250.9,397.3 246.6,393.8" fill="#1c2ce2" />
<rect x="266" y="389" width="10.6" height="5.3" fill="#1c28e6" />
<circle cx="267" cy="397" r="6.1" fill="#1c28e6"/>
<rect x="260.9" y="400.7" width="12.3" height="2.9" fill="#1c28e6" />
<circle cx="267" cy="397" r="3.1" fill="#e81820"/>
<rect x="252.4" y="407.6" width="9.6" height="2.6" fill="#e8f0f0" stroke="#909ca4" stroke-width="0.5" />
<rect x="252.4" y="416" width="9.6" height="2.6" fill="#e8f0f0" stroke="#909ca4" stroke-width="0.5" />
<path d="M263.8 407 L263.8 418.4" fill="none" stroke="#62e23a" stroke-width="2" stroke-linecap="butt" stroke-linejoin="miter" />
<rect x="293" y="401.8" width="29" height="15.6" fill="#100010" stroke="#7a1cc8" stroke-width="1.6" />
<text x="307.5" y="413.2" font-family="Liberation Mono, sans-serif" font-size="9.5" font-weight="bold" fill="#620c12" text-anchor="middle" >0.0</text>
<rect x="275" y="442.4" width="40.4" height="38" fill="#eaf268" />
<path d="M275 447 L315.4 447" fill="none" stroke="#f8fac0" stroke-width="0.7" stroke-linecap="butt" stroke-linejoin="miter" />
<path d="M275 452 L315.4 452" fill="none" stroke="#f8fac0" stroke-width="0.7" stroke-linecap="butt" stroke-linejoin="miter" />
<path d="M275 457 L315.4 457" fill="none" stroke="#f8fac0" stroke-width="0.7" stroke-linecap="butt" stroke-linejoin="miter" />
<path d="M275 462 L315.4 462" fill="none" stroke="#f8fac0" stroke-width="0.7" stroke-linecap="butt" stroke-linejoin="miter" />
<path d="M275 467 L315.4 467" fill="none" stroke="#f8fac0" stroke-width="0.7" stroke-linecap="butt" stroke-linejoin="miter" />
<path d="M275 472 L315.4 472" fill="none" stroke="#f8fac0" stroke-width="0.7" stroke-linecap="butt" stroke-linejoin="miter" />
<path d="M275 477 L315.4 477" fill="none" stroke="#f8fac0" stroke-width="0.7" stroke-linecap="butt" stroke-linejoin="miter" />
<path d="M279 442.4 L279 480.4" fill="none" stroke="#f8fac0" stroke-width="0.7" stroke-linecap="butt" stroke-linejoin="miter" />
<path d="M284 442.4 L284 480.4" fill="none" stroke="#f8fac0" stroke-width="0.7" stroke-linecap="butt" stroke-linejoin="miter" />
<path d="M289 442.4 L289 480.4" fill="none" stroke="#f8fac0" stroke-width="0.7" stroke-linecap="butt" stroke-linejoin="miter" />
<path d="M294 442.4 L294 480.4" fill="none" stroke="#f8fac0" stroke-width="0.7" stroke-linecap="butt" stroke-linejoin="miter" />
<path d="M299 442.4 L299 480.4" fill="none" stroke="#f8fac0" stroke-width="0.7" stroke-linecap="butt" stroke-linejoin="miter" />
<path d="M304 442.4 L304 480.4" fill="none" stroke="#f8fac0" stroke-width="0.7" stroke-linecap="butt" stroke-linejoin="miter" />
<path d="M309 442.4 L309 480.4" fill="none" stroke="#f8fac0" stroke-width="0.7" stroke-linecap="butt" stroke-linejoin="miter" />
<path d="M314 442.4 L314 480.4" fill="none" stroke="#f8fac0" stroke-width="0.7" stroke-linecap="butt" stroke-linejoin="miter" />
<path d="M273.8 434.4 L273.8 481.4 L316.4 481.4 L316.4 434.4" fill="none" stroke="#2a2ae0" stroke-width="2.6" stroke-linecap="butt" stroke-linejoin="miter" />
<path d="M282.2 434.4 L282.2 469" fill="none" stroke="#2a2ae0" stroke-width="2.4" stroke-linecap="butt" stroke-linejoin="miter" />
<path d="M273 435.6 L283.4 435.6" fill="none" stroke="#2a2ae0" stroke-width="2.4" stroke-linecap="butt" stroke-linejoin="miter" />
<path d="M307.6 435.6 L317.6 435.6" fill="none" stroke="#2a2ae0" stroke-width="2.4" stroke-linecap="butt" stroke-linejoin="miter" />
<path d="M296 428 L296 464" fill="none" stroke="#9aa4ac" stroke-width="1.4" stroke-linecap="butt" stroke-linejoin="miter" />
<path d="M308.6 432 L308.6 455" fill="none" stroke="#5a9ad0" stroke-width="1.4" stroke-linecap="butt" stroke-linejoin="miter" />
<path d="M288.1 464.4 L309.9 464.4" fill="none" stroke="#101418" stroke-width="1.7" stroke-linecap="butt" stroke-linejoin="miter" />
<polygon points="288.1,461 294.1,464.4 288.1,467.8 290.4,464.4" fill="#101418" />
<ellipse cx="297.9" cy="464.8" rx="3.4" ry="2" fill="#101418"/>
<rect x="306.1" y="462.9" width="4.5" height="2.5" fill="#101418" />
<polygon points="289.4,421.6 301,421.6 299,429.2 291.4,429.2" fill="#1c2a18" />
<rect x="291.4" y="423.1" width="7.6" height="2.6" fill="#9ab8a0" />
<rect x="292.4" y="426.6" width="5.6" height="2.2" fill="#2c8a3c" />
<rect x="302.4" y="424.6" width="8" height="5" fill="#2038c8" />
<path d="M323.8 419.9 L332.2 419.9" fill="none" stroke="#74e060" stroke-width="2" stroke-linecap="butt" stroke-linejoin="miter" />
<path d="M328 419.9 L328 426.4" fill="none" stroke="#b8ecb0" stroke-width="1.2" stroke-linecap="butt" stroke-linejoin="miter" />
<polygon points="323.8,423.4 323.8,429.4 328,426.4" fill="#f4f8f4" stroke="#c8d8d0" stroke-width="0.5" />
<polygon points="332.2,423.4 332.2,429.4 328,426.4" fill="#f4f8f4" stroke="#c8d8d0" stroke-width="0.5" />
<rect x="322.4" y="436.2" width="17.4" height="11.8" fill="#e81c24" rx="1.5" />
<rect x="341.4" y="418.4" width="76" height="66" fill="#e4ecec" />
<rect x="341.4" y="437.6" width="76" height="45" fill="#3ea818" />
<path d="M341 417.8 L419.6 417.8" fill="none" stroke="#2a2ae0" stroke-width="1.8" stroke-linecap="butt" stroke-linejoin="miter" />
<path d="M340.2 416.2 L340.2 485" fill="none" stroke="#2a2ae0" stroke-width="2.6" stroke-linecap="butt" stroke-linejoin="miter" />
<path d="M418.4 416.2 L418.4 485" fill="none" stroke="#2a2ae0" stroke-width="2.6" stroke-linecap="butt" stroke-linejoin="miter" />
<path d="M339 484.4 L419.6 484.4" fill="none" stroke="#2a2ae0" stroke-width="3" stroke-linecap="butt" stroke-linejoin="miter" />
<path d="M379 417 L379 466" fill="none" stroke="#2a2ae0" stroke-width="2.6" stroke-linecap="butt" stroke-linejoin="miter" />
<path d="M346 425.6 L379 425.6" fill="none" stroke="#b890e8" stroke-width="2.6" stroke-linecap="butt" stroke-linejoin="miter" />
<polygon points="341.4,421.6 349,425.6 341.4,429.6" fill="#2a2ae0" />
<path d="M341.4 460 L379 466.4 L413.6 460" fill="none" stroke="#2a2ae0" stroke-width="3" stroke-linecap="butt" stroke-linejoin="miter" />
<rect x="375" y="464" width="20" height="8" fill="#2a2ae0" rx="2" />
<path d="M387 470.6 L412 472.6" fill="none" stroke="#1a1aa0" stroke-width="2.4" stroke-linecap="butt" stroke-linejoin="miter" />
<path d="M343 440.6 L352 440.6" fill="none" stroke="#1a4010" stroke-width="1.2" stroke-linecap="butt" stroke-linejoin="miter" />
<path d="M341.4 437.4 L417.4 437.4" fill="none" stroke="#8ad070" stroke-width="1" stroke-linecap="butt" stroke-linejoin="miter" />
<polygon points="400.4,418 408,418 404.2,428" fill="#2cc48c" />
<path d="M404.2 410 L404.2 420" fill="none" stroke="#2cc48c" stroke-width="2.2" stroke-linecap="butt" stroke-linejoin="miter" />
<polygon points="410,473.4 418,469.6 418,477.2" fill="#a03ee0" />
<path d="M387.8 417 L387.8 434" fill="none" stroke="#2cc48c" stroke-width="1.6" stroke-linecap="butt" stroke-linejoin="miter" />
<rect x="361" y="403.6" width="5.4" height="9.4" fill="#289048" />
<rect x="366.4" y="405" width="5" height="6.6" fill="#e8f0f0" />
<rect x="371.4" y="402.4" width="9.6" height="10" fill="#d02028" stroke="#181c20" stroke-width="1" />
<rect x="367" y="412.4" width="14" height="2.6" fill="#181c20" />
<path d="M382.6 383.5 L392.2 383.5" fill="none" stroke="#74e060" stroke-width="2" stroke-linecap="butt" stroke-linejoin="miter" />
<path d="M387.4 383.5 L387.4 390" fill="none" stroke="#b8ecb0" stroke-width="1.2" stroke-linecap="butt" stroke-linejoin="miter" />
<polygon points="382.6,387 382.6,393 387.4,390" fill="#f4f8f4" stroke="#c8d8d0" stroke-width="0.5" />
<polygon points="392.2,387 392.2,393 387.4,390" fill="#f4f8f4" stroke="#c8d8d0" stroke-width="0.5" />
<rect x="383" y="394.4" width="9" height="2.8" fill="#f0f4f4" stroke="#b0c0c0" stroke-width="0.5" />
<path d="M421.6 464.9 L429.6 464.9" fill="none" stroke="#74e060" stroke-width="2" stroke-linecap="butt" stroke-linejoin="miter" />
<path d="M425.6 464.9 L425.6 471.4" fill="none" stroke="#b8ecb0" stroke-width="1.2" stroke-linecap="butt" stroke-linejoin="miter" />
<polygon points="421.6,468.4 421.6,474.4 425.6,471.4" fill="#f4f8f4" stroke="#c8d8d0" stroke-width="0.5" />
<polygon points="429.6,468.4 429.6,474.4 425.6,471.4" fill="#f4f8f4" stroke="#c8d8d0" stroke-width="0.5" />
<polygon points="428.8,470.4 428.8,476.8 432.6,473.6" fill="#1c2ce2" />
<polygon points="436.4,470.4 436.4,476.8 432.6,473.6" fill="#1c2ce2" />
<rect x="434" y="485.8" width="9" height="2.4" fill="#f0f4f6" stroke="#909ca4" stroke-width="0.5" />
<rect x="434" y="492" width="9" height="2.4" fill="#f0f4f6" stroke="#909ca4" stroke-width="0.5" />
<path d="M444.4 484 L444.4 492.6" fill="none" stroke="#62e23a" stroke-width="1.8" stroke-linecap="butt" stroke-linejoin="miter" stroke-dasharray="2.4 1.6"/>
<polygon points="432.4,425 443,425 437.7,432.8" fill="#64f03c" />
<polygon points="432.4,440.6 443,440.6 437.7,432.8" fill="#64f03c" />
<path d="M437.7 432.8 L446 432.8" fill="none" stroke="#202428" stroke-width="1.4" stroke-linecap="butt" stroke-linejoin="miter" />
<ellipse cx="451.4" cy="432.8" rx="5.2" ry="7.2" fill="#2a2e34"/>
<ellipse cx="451.4" cy="432.8" rx="2.4" ry="3.8" fill="#8a9098"/>
<rect x="458.2" y="446.5" width="12.2" height="5.4" fill="#26282c" />
<circle cx="458.2" cy="454.5" r="7.1" fill="#26282c" stroke="#50585c" stroke-width="1"/>
<polygon points="450.4,463 466.1,463 462.5,458.8 453.9,458.8" fill="#26282c" />
<circle cx="458.2" cy="454.5" r="3.6" fill="#d81c24"/>
<circle cx="458.2" cy="454.5" r="1.3" fill="#501010"/>
<rect x="459.1" y="467.1" width="12.5" height="5.4" fill="#26282c" />
<circle cx="459.1" cy="475.1" r="7.1" fill="#26282c" stroke="#50585c" stroke-width="1"/>
<polygon points="451.2,483.6 466.9,483.6 463.4,479.4 454.8,479.4" fill="#26282c" />
<circle cx="459.1" cy="475.1" r="3.6" fill="#d81c24"/>
<circle cx="459.1" cy="475.1" r="1.3" fill="#501010"/>
<path d="M472 440.9 L480 440.9" fill="none" stroke="#74e060" stroke-width="2" stroke-linecap="butt" stroke-linejoin="miter" />
<path d="M476 440.9 L476 447.4" fill="none" stroke="#b8ecb0" stroke-width="1.2" stroke-linecap="butt" stroke-linejoin="miter" />
<polygon points="472,444.4 472,450.4 476,447.4" fill="#f4f8f4" stroke="#c8d8d0" stroke-width="0.5" />
<polygon points="480,444.4 480,450.4 476,447.4" fill="#f4f8f4" stroke="#c8d8d0" stroke-width="0.5" />
<path d="M472 460.5 L480 460.5" fill="none" stroke="#74e060" stroke-width="2" stroke-linecap="butt" stroke-linejoin="miter" />
<path d="M476 460.5 L476 467" fill="none" stroke="#b8ecb0" stroke-width="1.2" stroke-linecap="butt" stroke-linejoin="miter" />
<polygon points="472,464 472,470 476,467" fill="#f4f8f4" stroke="#c8d8d0" stroke-width="0.5" />
<polygon points="480,464 480,470 476,467" fill="#f4f8f4" stroke="#c8d8d0" stroke-width="0.5" />
<rect x="485.6" y="430" width="31.6" height="56" fill="#e4ecec" />
<rect x="485.6" y="439.6" width="31.6" height="42" fill="#3ea818" />
<rect x="485.6" y="481.4" width="31.6" height="3.6" fill="#30c8a0" />
<path d="M484.6 428.6 L484.6 486.6 L518.2 486.6 L518.2 428.6" fill="none" stroke="#2a2ae0" stroke-width="2.6" stroke-linecap="butt" stroke-linejoin="miter" />
<path d="M483.4 429.6 L519.4 429.6" fill="none" stroke="#2a2ae0" stroke-width="2.4" stroke-linecap="butt" stroke-linejoin="miter" />
<path d="M500.6 424 L500.6 462" fill="none" stroke="#c8d0d0" stroke-width="1.2" stroke-linecap="butt" stroke-linejoin="miter" />
<path d="M492.1 462.6 L511.2 462.6" fill="none" stroke="#14301c" stroke-width="1.5" stroke-linecap="butt" stroke-linejoin="miter" />
<polygon points="492.1,459.6 497.4,462.6 492.1,465.6 494.1,462.6" fill="#14301c" />
<ellipse cx="500.7" cy="463" rx="3" ry="1.7" fill="#14301c"/>
<rect x="507.9" y="461.3" width="4" height="2.2" fill="#14301c" />
<polygon points="494.4,416.6 507,416.6 505,424.4 496.4,424.4" fill="#1c2a18" />
<rect x="496.4" y="418.1" width="8.6" height="2.6" fill="#9ab8a0" />
<rect x="497.4" y="421.6" width="6.6" height="2.2" fill="#2c8a3c" />
<path d="M489.8 424 L489.8 433" fill="none" stroke="#a03ee0" stroke-width="2.4" stroke-linecap="butt" stroke-linejoin="miter" />
<polygon points="485.8,431.6 493.8,431.6 489.8,440" fill="#a030f0" />
<rect x="526" y="433" width="18.8" height="13" fill="#56ea26" />
<rect x="529.8" y="437.2" width="4.1" height="4.7" fill="#a8f090" opacity="0.8"/>
<rect x="535.8" y="437.2" width="4.9" height="4.7" fill="#a8f090" opacity="0.7"/>
<rect x="526" y="447.6" width="18.8" height="13.8" fill="#56ea26" />
<rect x="529.8" y="452" width="4.1" height="5" fill="#a8f090" opacity="0.8"/>
<rect x="535.8" y="452" width="4.9" height="5" fill="#a8f090" opacity="0.7"/>
<rect x="526" y="463.6" width="18.8" height="11.4" fill="#56ea26" />
<rect x="529.8" y="467.2" width="4.1" height="4.1" fill="#a8f090" opacity="0.8"/>
<rect x="535.8" y="467.2" width="4.9" height="4.1" fill="#a8f090" opacity="0.7"/>
<polygon points="544.8,475 544.8,462 549,460 553,475" fill="#56ea26" />
<path d="M518.4 440 L526 440" fill="none" stroke="#8a9098" stroke-width="1.2" stroke-linecap="butt" stroke-linejoin="miter" />
<path d="M518.4 455 L526 455" fill="none" stroke="#8a9098" stroke-width="1.2" stroke-linecap="butt" stroke-linejoin="miter" />
<path d="M518.4 470 L526 470" fill="none" stroke="#8a9098" stroke-width="1.2" stroke-linecap="butt" stroke-linejoin="miter" />
<polygon points="529.6,478.4 529.6,486.4 534.6,482.4" fill="#1c2ce2" />
<polygon points="539.6,478.4 539.6,486.4 534.6,482.4" fill="#1c2ce2" />
<ellipse cx="562" cy="468" rx="6.6" ry="7" fill="#22262a"/>
<rect x="557.6" y="463.6" width="8.8" height="4.4" fill="#e8eeee" />
<path d="M549 466.6 L556 466.6" fill="none" stroke="#202428" stroke-width="1.4" stroke-linecap="butt" stroke-linejoin="miter" />
<rect x="561.3" y="476.3" width="10.7" height="5.4" fill="#26282c" />
<circle cx="561.3" cy="484.3" r="7.1" fill="#26282c" stroke="#50585c" stroke-width="1"/>
<polygon points="553.5,492.8 569.2,492.8 565.6,488.6 557,488.6" fill="#26282c" />
<circle cx="561.3" cy="484.3" r="3.6" fill="#d81c24"/>
<circle cx="561.3" cy="484.3" r="1.3" fill="#501010"/>
<rect x="544.8" y="490.4" width="8.4" height="2.2" fill="#f0f4f6" stroke="#909ca4" stroke-width="0.5" />
<rect x="544.8" y="497.4" width="8.4" height="2.2" fill="#f0f4f6" stroke="#909ca4" stroke-width="0.5" />
<path d="M227.8 288.1 L235.8 288.1" fill="none" stroke="#74e060" stroke-width="2" stroke-linecap="butt" stroke-linejoin="miter" />
<path d="M231.8 288.1 L231.8 294.6" fill="none" stroke="#b8ecb0" stroke-width="1.2" stroke-linecap="butt" stroke-linejoin="miter" />
<polygon points="227.8,291.6 227.8,297.6 231.8,294.6" fill="#f4f8f4" stroke="#c8d8d0" stroke-width="0.5" />
<polygon points="235.8,291.6 235.8,297.6 231.8,294.6" fill="#f4f8f4" stroke="#c8d8d0" stroke-width="0.5" />
<path d="M188.2 233.1 L196.6 233.1" fill="none" stroke="#74e060" stroke-width="2" stroke-linecap="butt" stroke-linejoin="miter" />
<path d="M192.4 233.1 L192.4 239.6" fill="none" stroke="#b8ecb0" stroke-width="1.2" stroke-linecap="butt" stroke-linejoin="miter" />
<polygon points="188.2,236.6 188.2,242.6 192.4,239.6" fill="#f4f8f4" stroke="#c8d8d0" stroke-width="0.5" />
<polygon points="196.6,236.6 196.6,242.6 192.4,239.6" fill="#f4f8f4" stroke="#c8d8d0" stroke-width="0.5" />
<path d="M322.4 233.5 L330.4 233.5" fill="none" stroke="#74e060" stroke-width="2" stroke-linecap="butt" stroke-linejoin="miter" />
<path d="M326.4 233.5 L326.4 240" fill="none" stroke="#b8ecb0" stroke-width="1.2" stroke-linecap="butt" stroke-linejoin="miter" />
<polygon points="322.4,237 322.4,243 326.4,240" fill="#f4f8f4" stroke="#c8d8d0" stroke-width="0.5" />
<polygon points="330.4,237 330.4,243 326.4,240" fill="#f4f8f4" stroke="#c8d8d0" stroke-width="0.5" />
<path d="M500.2 290.3 L507.8 290.3" fill="none" stroke="#74e060" stroke-width="2" stroke-linecap="butt" stroke-linejoin="miter" />
<path d="M504 290.3 L504 296.8" fill="none" stroke="#b8ecb0" stroke-width="1.2" stroke-linecap="butt" stroke-linejoin="miter" />
<polygon points="500.2,293.8 500.2,299.8 504,296.8" fill="#f4f8f4" stroke="#c8d8d0" stroke-width="0.5" />
<polygon points="507.8,293.8 507.8,299.8 504,296.8" fill="#f4f8f4" stroke="#c8d8d0" stroke-width="0.5" />
<rect x="436.4" y="267.2" width="21.4" height="35.8" fill="#2444f0" stroke="#2a2ae0" stroke-width="1.6" />
<rect x="437.4" y="268.2" width="19.4" height="5.8" fill="#f0f4f8" />
<path d="M440 270.6 L453 270.6" fill="none" stroke="#9098c8" stroke-width="1" stroke-linecap="butt" stroke-linejoin="miter" />
<rect x="416.4" y="272.8" width="16.6" height="10.8" fill="#56ea26" />
<rect x="419.7" y="276.3" width="3.7" height="3.9" fill="#a8f090" opacity="0.8"/>
<rect x="425" y="276.3" width="4.3" height="3.9" fill="#a8f090" opacity="0.7"/>
<rect x="416.4" y="286" width="16.6" height="9.6" fill="#56ea26" />
<rect x="419.7" y="289.1" width="3.7" height="3.5" fill="#a8f090" opacity="0.8"/>
<rect x="425" y="289.1" width="4.3" height="3.5" fill="#a8f090" opacity="0.7"/>
<rect x="463.8" y="267.2" width="18.6" height="12" fill="#56ea26" />
<rect x="467.5" y="271" width="4.1" height="4.3" fill="#a8f090" opacity="0.8"/>
<rect x="473.5" y="271" width="4.8" height="4.3" fill="#a8f090" opacity="0.7"/>
<rect x="463.8" y="295.6" width="18.6" height="11.4" fill="#56ea26" />
<rect x="467.5" y="299.2" width="4.1" height="4.1" fill="#a8f090" opacity="0.8"/>
<rect x="473.5" y="299.2" width="4.8" height="4.1" fill="#a8f090" opacity="0.7"/>
<path d="M458 273 L464 273" fill="none" stroke="#8a9098" stroke-width="1.2" stroke-linecap="butt" stroke-linejoin="miter" />
<path d="M433 290.6 L436.4 290.6" fill="none" stroke="#8a9098" stroke-width="1.2" stroke-linecap="butt" stroke-linejoin="miter" />
<polygon points="404,305 404,314.2 410.5,309.6" fill="#ecec30" stroke="#a0a020" stroke-width="0.5" />
<polygon points="417,305 417,314.2 410.5,309.6" fill="#ecec30" stroke="#a0a020" stroke-width="0.5" />
<path d="M410.5 298 L410.5 309.6" fill="none" stroke="#202428" stroke-width="1.4" stroke-linecap="butt" stroke-linejoin="miter" />
<ellipse cx="410.5" cy="293.8" rx="5.4" ry="3.6" fill="#f0f4f4" stroke="#1c2024" stroke-width="1.8"/>
<rect x="362" y="320.6" width="10.6" height="5" fill="#1c28e6" />
<circle cx="371.6" cy="328.2" r="5.8" fill="#1c28e6"/>
<rect x="365.8" y="331.6" width="11.6" height="2.8" fill="#1c28e6" />
<circle cx="371.6" cy="328.2" r="2.9" fill="#e81820"/>
<rect x="405.6" y="320.6" width="12.3" height="5.5" fill="#1c28e6" />
<circle cx="416.9" cy="329.1" r="6.5" fill="#1c28e6"/>
<rect x="410.4" y="332.9" width="12.9" height="3.1" fill="#1c28e6" />
<circle cx="416.9" cy="329.1" r="3.2" fill="#e81820"/>
<path d="M425.5 318.5 L434.5 318.5" fill="none" stroke="#74e060" stroke-width="2" stroke-linecap="butt" stroke-linejoin="miter" />
<path d="M430 318.5 L430 325" fill="none" stroke="#b8ecb0" stroke-width="1.2" stroke-linecap="butt" stroke-linejoin="miter" />
<polygon points="425.5,322 425.5,328 430,325" fill="#f4f8f4" stroke="#c8d8d0" stroke-width="0.5" />
<polygon points="434.5,322 434.5,328 430,325" fill="#f4f8f4" stroke="#c8d8d0" stroke-width="0.5" />
<polygon points="436.4,322.1 436.4,329.1 441.4,325.6" fill="#1c2ce2" />
<polygon points="446.4,322.1 446.4,329.1 441.4,325.6" fill="#1c2ce2" />
<polygon points="488,314.1 488,325.3 494.9,319.7" fill="#e81c24" />
<polygon points="501.8,314.1 501.8,325.3 494.9,319.7" fill="#e81c24" />
<path d="M494.9 319.7 L494.9 311.1" fill="none" stroke="#202020" stroke-width="1.4" stroke-linecap="butt" stroke-linejoin="miter" />
<rect x="491.7" y="303.1" width="6.4" height="8" fill="#d01c24" stroke="#601010" stroke-width="0.8" />
<rect x="527.2" y="354.8" width="33.2" height="24" fill="#56ea26" stroke="#46d028" stroke-width="1" />
<rect x="530.6" y="357" width="2.2" height="19.6" fill="#d0f6c4" />
<rect x="535.6" y="357" width="2.2" height="19.6" fill="#d0f6c4" />
<rect x="540.6" y="357" width="2.2" height="19.6" fill="#d0f6c4" />
<rect x="545.6" y="357" width="2.2" height="19.6" fill="#d0f6c4" />
<rect x="550.6" y="357" width="2.2" height="19.6" fill="#d0f6c4" />
<rect x="555.6" y="357" width="2.2" height="19.6" fill="#d0f6c4" />
<path d="M524.8 384.6 L573 384.6" fill="none" stroke="#62e23a" stroke-width="2.6" stroke-linecap="butt" stroke-linejoin="miter" />
<path d="M530 379 L530 384" fill="none" stroke="#62e23a" stroke-width="1.6" stroke-linecap="butt" stroke-linejoin="miter" />
<path d="M545 379 L545 384" fill="none" stroke="#62e23a" stroke-width="1.6" stroke-linecap="butt" stroke-linejoin="miter" />
<path d="M557 379 L557 384" fill="none" stroke="#62e23a" stroke-width="1.6" stroke-linecap="butt" stroke-linejoin="miter" />
<path d="M560.4 365 L568.4 365 L568.4 388" fill="none" stroke="#62e23a" stroke-width="2.2" stroke-linecap="butt" stroke-linejoin="miter" />
<polygon points="564.4,386.6 572.4,386.6 568.4,393.6" fill="#62e23a" />
<path d="M553.3 336.9 L564.7 336.9" fill="none" stroke="#74e060" stroke-width="2" stroke-linecap="butt" stroke-linejoin="miter" />
<path d="M559 336.9 L559 343.4" fill="none" stroke="#b8ecb0" stroke-width="1.2" stroke-linecap="butt" stroke-linejoin="miter" />
<polygon points="553.3,340.4 553.3,346.4 559,343.4" fill="#f4f8f4" stroke="#c8d8d0" stroke-width="0.5" />
<polygon points="564.7,340.4 564.7,346.4 559,343.4" fill="#f4f8f4" stroke="#c8d8d0" stroke-width="0.5" />
<path d="M563 396 Q570 388.6 577 394.6 Q585 392 589 399.6 L586.6 400.6 Q582 396 576.6 398.4 L563 398.4 Z" fill="#38c848"/>
<polygon points="565,400 575.4,400 570.2,407.6" fill="#1c34e8" />
<path d="M570.2 407 L570.2 413.4" fill="none" stroke="#1c34e8" stroke-width="2" stroke-linecap="butt" stroke-linejoin="miter" />
<text x="53.2" y="93.4" font-family="'Liberation Sans', 'Noto Sans CJK SC', sans-serif" font-size="7.6" font-weight="bold" fill="#8a08c8" text-anchor="start" textLength="29.2" lengthAdjust="spacingAndGlyphs">工业水补充</text>
<text x="178.5" y="141.6" font-family="'Liberation Sans', 'Noto Sans CJK SC', sans-serif" font-size="8.4" font-weight="bold" fill="#1424e0" text-anchor="start" textLength="45.4" lengthAdjust="spacingAndGlyphs">1#,2#吸冲洗水泵</text>
<text x="178.1" y="162.6" font-family="'Liberation Sans', 'Noto Sans CJK SC', sans-serif" font-size="8.4" font-weight="bold" fill="#1424e0" text-anchor="start" textLength="37.8" lengthAdjust="spacingAndGlyphs">3#吸冲洗水泵</text>
<text x="178.2" y="186" font-family="'Liberation Sans', 'Noto Sans CJK SC', sans-serif" font-size="8.4" font-weight="bold" fill="#1424e0" text-anchor="start" textLength="23.7" lengthAdjust="spacingAndGlyphs">工艺水泵</text>
<text x="55.3" y="219.8" font-family="'Liberation Sans', 'Noto Sans CJK SC', sans-serif" font-size="8.4" font-weight="bold" fill="#1424e0" text-anchor="start" textLength="34.6" lengthAdjust="spacingAndGlyphs">主厂供钠碱</text>
<text x="108.7" y="289.4" font-family="'Liberation Sans', 'Noto Sans CJK SC', sans-serif" font-size="8.4" font-weight="bold" fill="#1424e0" text-anchor="start" textLength="20.7" lengthAdjust="spacingAndGlyphs">钠碱罐</text>
<text x="148.1" y="294.2" font-family="'Liberation Sans', 'Noto Sans CJK SC', sans-serif" font-size="8.4" font-weight="bold" fill="#1424e0" text-anchor="start" textLength="20.8" lengthAdjust="spacingAndGlyphs">钠碱泵</text>
<text x="127.3" y="324.3" font-family="'Liberation Sans', 'Noto Sans CJK SC', sans-serif" font-size="7.6" font-weight="bold" fill="#8a08c8" text-anchor="start" textLength="17" lengthAdjust="spacingAndGlyphs">安全阀</text>
<text x="75.6" y="334" font-family="'Liberation Sans', 'Noto Sans CJK SC', sans-serif" font-size="7.6" font-weight="bold" fill="#8a08c8" text-anchor="start" textLength="13.7" lengthAdjust="spacingAndGlyphs">总风</text>
<text x="50.4" y="372.9" font-family="'Liberation Sans', 'Noto Sans CJK SC', sans-serif" font-size="7" font-weight="bold" fill="#8a08c8" text-anchor="start" textLength="22.5" lengthAdjust="spacingAndGlyphs">仪用压缩气</text>
<text x="48.8" y="432.3" font-family="'Liberation Sans', 'Noto Sans CJK SC', sans-serif" font-size="7.2" font-weight="bold" fill="#8a08c8" text-anchor="start" textLength="24.4" lengthAdjust="spacingAndGlyphs">工业水补充</text>
<text x="95" y="513" font-family="'Liberation Sans', 'Noto Sans CJK SC', sans-serif" font-size="8" font-weight="bold" fill="#1424e0" text-anchor="start" textLength="38.8" lengthAdjust="spacingAndGlyphs">石灰浆液30%</text>
<text x="153.6" y="438.6" font-family="'Liberation Sans', 'Noto Sans CJK SC', sans-serif" font-size="7.6" font-weight="bold" fill="#48d828" text-anchor="start" textLength="16.7" lengthAdjust="spacingAndGlyphs">工艺水</text>
<text x="182.9" y="495.2" font-family="'Liberation Sans', 'Noto Sans CJK SC', sans-serif" font-size="8.4" font-weight="bold" fill="#1424e0" text-anchor="start" textLength="21.2" lengthAdjust="spacingAndGlyphs">浆液泵</text>
<text x="176" y="424.4" font-family="'Liberation Sans', 'Noto Sans CJK SC', sans-serif" font-size="8.8" font-weight="bold" fill="#1424e0" text-anchor="start" textLength="31.2" lengthAdjust="spacingAndGlyphs">PH调节池</text>
<text x="257" y="364.4" font-family="Liberation Sans, sans-serif" font-size="8.6" font-weight="bold" fill="#48d828" text-anchor="start" textLength="12.6" lengthAdjust="spacingAndGlyphs">TZA</text>
<text x="329" y="192.4" font-family="Liberation Sans, sans-serif" font-size="8.6" font-weight="bold" fill="#48d828" text-anchor="start" textLength="12" lengthAdjust="spacingAndGlyphs">TZA</text>
<text x="465.4" y="192.4" font-family="Liberation Sans, sans-serif" font-size="8.6" font-weight="bold" fill="#48d828" text-anchor="start" textLength="12" lengthAdjust="spacingAndGlyphs">TZA</text>
<text x="281.9" y="494.2" font-family="'Liberation Sans', 'Noto Sans CJK SC', sans-serif" font-size="8.4" font-weight="bold" fill="#1424e0" text-anchor="start" textLength="20.1" lengthAdjust="spacingAndGlyphs">置换池</text>
<text x="325.5" y="445.2" font-family="'Liberation Sans', 'Noto Sans CJK SC', sans-serif" font-size="7.6" font-weight="bold" fill="#ffe8e8" text-anchor="start" textLength="11.4" lengthAdjust="spacingAndGlyphs">数控</text>
<text x="281.5" y="274.8" font-family="'Liberation Sans', 'Noto Sans CJK SC', sans-serif" font-size="8.8" font-weight="bold" fill="#1424e0" text-anchor="start" textLength="19.1" lengthAdjust="spacingAndGlyphs">3#喷压</text>
<text x="414" y="270.8" font-family="'Liberation Sans', 'Noto Sans CJK SC', sans-serif" font-size="8.8" font-weight="bold" fill="#1424e0" text-anchor="start" textLength="19" lengthAdjust="spacingAndGlyphs">2#喷压</text>
<text x="551.9" y="273.2" font-family="'Liberation Sans', 'Noto Sans CJK SC', sans-serif" font-size="8.8" font-weight="bold" fill="#1424e0" text-anchor="start" textLength="18.7" lengthAdjust="spacingAndGlyphs">1#喷压</text>
<text x="246.3" y="251.4" font-family="'Liberation Sans', 'Noto Sans CJK SC', sans-serif" font-size="9.2" font-weight="bold" fill="#1424e0" text-anchor="start" textLength="5.7" lengthAdjust="spacingAndGlyphs">3#</text>
<text x="246.6" y="260.4" font-family="'Liberation Sans', 'Noto Sans CJK SC', sans-serif" font-size="8.6" font-weight="bold" fill="#1424e0" text-anchor="start" textLength="18.1" lengthAdjust="spacingAndGlyphs">吸收塔</text>
<text x="379.6" y="251.4" font-family="'Liberation Sans', 'Noto Sans CJK SC', sans-serif" font-size="9.2" font-weight="bold" fill="#1424e0" text-anchor="start" textLength="5.6" lengthAdjust="spacingAndGlyphs">2#</text>
<text x="379.8" y="260.4" font-family="'Liberation Sans', 'Noto Sans CJK SC', sans-serif" font-size="8.6" font-weight="bold" fill="#1424e0" text-anchor="start" textLength="18.1" lengthAdjust="spacingAndGlyphs">吸收塔</text>
<text x="519.4" y="251.4" font-family="'Liberation Sans', 'Noto Sans CJK SC', sans-serif" font-size="9.2" font-weight="bold" fill="#1424e0" text-anchor="start" textLength="5.4" lengthAdjust="spacingAndGlyphs">1#</text>
<text x="519.4" y="260.4" font-family="'Liberation Sans', 'Noto Sans CJK SC', sans-serif" font-size="8.6" font-weight="bold" fill="#1424e0" text-anchor="start" textLength="18.1" lengthAdjust="spacingAndGlyphs">吸收塔</text>
<text x="440.7" y="264.4" font-family="'Liberation Sans', 'Noto Sans CJK SC', sans-serif" font-size="8.8" font-weight="bold" fill="#34c23c" text-anchor="start" textLength="14" lengthAdjust="spacingAndGlyphs">K合池</text>
<text x="354.3" y="332.8" font-family="'Liberation Sans', 'Noto Sans CJK SC', sans-serif" font-size="8.4" font-weight="bold" fill="#1424e0" text-anchor="start" textLength="6.8" lengthAdjust="spacingAndGlyphs">小</text>
<text x="398.8" y="332.8" font-family="'Liberation Sans', 'Noto Sans CJK SC', sans-serif" font-size="8.4" font-weight="bold" fill="#1424e0" text-anchor="start" textLength="6.6" lengthAdjust="spacingAndGlyphs">大</text>
<text x="488.4" y="334" font-family="'Liberation Sans', 'Noto Sans CJK SC', sans-serif" font-size="7.4" font-weight="bold" fill="#48d828" text-anchor="start" textLength="13.3" lengthAdjust="spacingAndGlyphs">工艺水</text>
<text x="440.7" y="401.4" font-family="'Liberation Sans', 'Noto Sans CJK SC', sans-serif" font-size="8.4" font-weight="bold" fill="#48d828" text-anchor="start" textLength="19.2" lengthAdjust="spacingAndGlyphs">工艺水</text>
<text x="367" y="498.2" font-family="'Liberation Sans', 'Noto Sans CJK SC', sans-serif" font-size="8.4" font-weight="bold" fill="#1424e0" text-anchor="start" textLength="20.2" lengthAdjust="spacingAndGlyphs">沉淀池</text>
<text x="448.2" y="498.2" font-family="'Liberation Sans', 'Noto Sans CJK SC', sans-serif" font-size="8.4" font-weight="bold" fill="#1424e0" text-anchor="start" textLength="27.3" lengthAdjust="spacingAndGlyphs">沉淀池泵</text>
<text x="446.4" y="463.1" font-family="'Liberation Sans', 'Noto Sans CJK SC', sans-serif" font-size="7.8" font-weight="bold" fill="#1424e0" text-anchor="start" textLength="5" lengthAdjust="spacingAndGlyphs">1#</text>
<text x="446.2" y="482.7" font-family="'Liberation Sans', 'Noto Sans CJK SC', sans-serif" font-size="7.8" font-weight="bold" fill="#1424e0" text-anchor="start" textLength="5.2" lengthAdjust="spacingAndGlyphs">2#</text>
<text x="490.7" y="499.6" font-family="'Liberation Sans', 'Noto Sans CJK SC', sans-serif" font-size="8.4" font-weight="bold" fill="#1424e0" text-anchor="start" textLength="20.3" lengthAdjust="spacingAndGlyphs">缓冲池</text>
<text x="552.5" y="504" font-family="'Liberation Sans', 'Noto Sans CJK SC', sans-serif" font-size="8.4" font-weight="bold" fill="#1424e0" text-anchor="start" textLength="21.4" lengthAdjust="spacingAndGlyphs">缓冲泵</text>
<text x="549.6" y="443.8" font-family="'Liberation Sans', 'Noto Sans CJK SC', sans-serif" font-size="7.2" font-weight="bold" fill="#48d828" text-anchor="start" textLength="14.1" lengthAdjust="spacingAndGlyphs">工艺水</text>
<text x="575.9" y="352" font-family="'Liberation Sans', 'Noto Sans CJK SC', sans-serif" font-size="8.4" font-weight="bold" fill="#1424e0" text-anchor="start" textLength="13.1" lengthAdjust="spacingAndGlyphs">外排</text>
<text x="561.7" y="421.3" font-family="'Liberation Sans', 'Noto Sans CJK SC', sans-serif" font-size="8.2" font-weight="bold" fill="#1424e0" text-anchor="start" textLength="27.4" lengthAdjust="spacingAndGlyphs">滤饼外运</text>
</g>
</svg>
</body></html>
